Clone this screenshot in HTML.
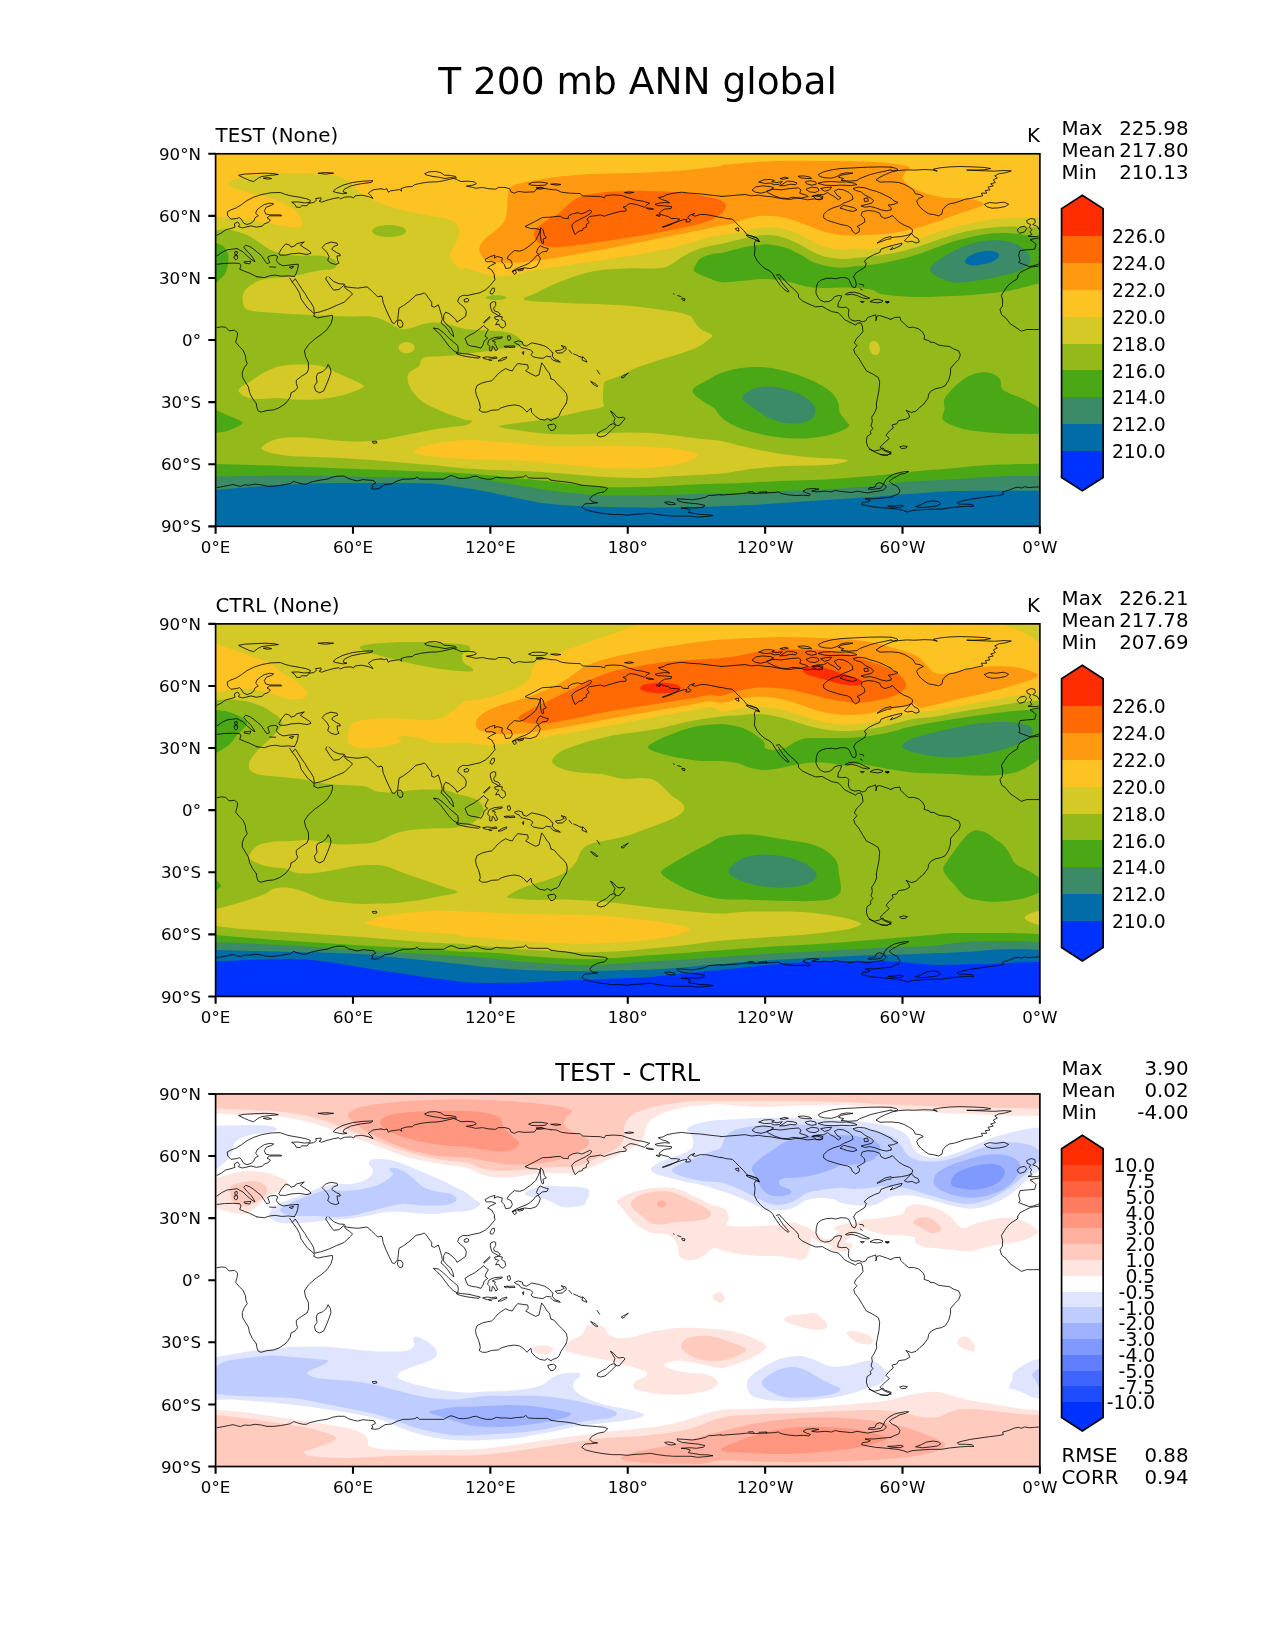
<!DOCTYPE html>
<html lang="en"><head><meta charset="utf-8"><title>T 200 mb ANN global</title>
<style>html,body{margin:0;padding:0;background:#fff}body{width:1275px;height:1650px;overflow:hidden}svg{display:block;will-change:transform}text{font-family:"DejaVu Sans","Liberation Sans",sans-serif;fill:#000}.t8{font-size:16.67px}.t9{font-size:18.75px}.t95{font-size:19.79px}.t115{font-size:23.96px}.t18{font-size:37.5px}.m{text-anchor:middle}.e{text-anchor:end}.coast{fill:none;stroke:#000;stroke-width:0.8;stroke-linejoin:round;stroke-linecap:round}</style></head><body>
<svg width="1275" height="1650" viewBox="0 0 1275 1650">
<rect width="1275" height="1650" fill="#fff"/>
<text class="t18 m" x="637.5" y="94.4">T 200 mb ANN global</text>
<defs>
<clipPath id="c0"><rect x="215.6" y="153.78" width="824.29" height="372.57"/></clipPath>
<clipPath id="c1"><rect x="215.6" y="623.87" width="824.29" height="372.57"/></clipPath>
<clipPath id="c2"><rect x="215.6" y="1093.95" width="824.29" height="372.57"/></clipPath>
<path id="coast" class="coast" d="M239,21.38L244.33,20.32L255,19.78L264.33,19.38L273.67,19.78L278.33,20.72L269.67,21.65L261.67,22.72L257.67,24.72L253.67,27.78L249.67,26.72L244.33,24.32L240.33,22.45ZM263.67,24.32L268.33,23.78L271.67,24.85L267.67,25.38ZM318.33,19.38L325.67,18.72L333.67,19.38L325.67,20.32ZM333.4,37.38L336.33,34.72L343,31.38L352.33,28.72L363,27.38L373,26.98L371,28.72L360.33,30.05L351,32.05L344.33,35.38L343,38.05L347,39.38L343,40.05L336.33,38.72ZM217,81.38L221,79.38L225.67,76.05L231,74.72L235,73.38L234.33,70.05L237.67,68.05L239.67,70.72L238.33,72.72L242.33,74.05L245.67,73.38L251,72.05L256.33,73.38L262.33,72.32L264.33,70.05L268.33,68.72L270.33,66.05L267,64.05L269.67,62.05L281.67,62.05L281,61.12L269.67,61.12L265.67,60.05L264.33,56.72L266.33,53.38L271.67,51.38L273.67,50.05L269.67,49.38L264.33,50.72L260.33,53.38L257,56.05L255.67,59.38L258.33,62.05L255,64.05L253.67,67.38L251,69.38L247,70.72L243.67,69.38L241.67,66.05L239.67,63.78L236.33,64.72L231,65.38L227.67,62.05L227.27,58.05L231,56.05L236.33,54.05L241.67,50.72L247,46.72L253.67,43.38L261.67,40.72L271,38.98L280.33,38.72L285.67,40.72L291,42.05L299,43.38L305.67,44.72L310.33,46.45L309.67,48.72L304.33,49.12L297.67,48.05L291.67,48.32L295,50.72L296.33,53.38L300.33,53.65L301.67,51.78L307,52.05L309,49.38L313.67,48.72L316.33,46.72L315.67,44.72L321,44.05L321,46.05L319,47.38L321.67,48.32L327,46.45L333.67,44.72L339,43.78L340.33,45.12L344.33,43.38L351,42.98L353.67,44.05L355,42.05L361.67,41.38L368.33,42.72L373,44.72L371,42.05L368.33,39.38L373,36.05L381,34.98M279,99.38L281.67,94.72L285.67,90.05L289.67,91.38L291,93.38L295,92.05L296.33,90.05L304.33,88.05L300.33,91.38L304.33,94.05L309.67,97.38L311,99.38L307,100.72L299,99.38L291,100.05L285.67,101.38L280.33,101.38ZM322.33,93.38L325.67,90.05L331,88.32L337,89.38L337.67,91.38L333.67,92.72L331.67,95.38L336.33,98.72L339.67,100.05L340.33,102.05L337,102.05L337.67,106.72L339,109.38L335.67,110.72L331,109.38L327.67,106.72L329,102.72L327,98.72L324.33,96.05ZM217,102.05L221.67,98.72L227,96.05L232.33,95.38L237,94.72L239.67,96.32L243,98.05L246.33,101.38L251,105.38L255,108.05L253.67,105.38L251,101.38L247,97.38L243.67,93.38L245.67,91.38L249.67,92.72L253.67,95.38L257.67,98.72L261,101.38L263.67,105.38L267,110.05L269.67,108.72L267.67,103.38L270.33,102.05L275,101.38L277.67,102.72L276.33,106.72L279,110.05L283,112.05L288.33,111.38L293.67,110.72L298.33,110.45L297.67,115.38L296.33,119.38L294.33,122.72M235,98.05L237,97.38L237.4,100.05L235.67,101.38ZM234.73,102.05L237.4,101.65L237.67,104.72L235.67,106.05L234.33,104.32ZM244.33,108.05L251,107.38L249.67,110.05L245,109.38ZM269.67,113.12L275.67,113.38M289.67,113.38L293.67,112.32L292.33,114.45ZM217,110.45L224.33,109.65L232.33,109.38L239.67,109.65L241,112.05L239.67,115.38L244.33,117.38L249.67,119.38L255,122.05L257,122.98M381,34.98L384.33,35.78L387,34.98L388.33,38.45L390.33,37.12L395.67,36.32L399.67,35.78L401.67,37.38L401,34.72L406.33,33.12L412.33,32.72L414.33,30.98L421,29.38L429,28.32L437,28.05L443.67,26.98L449,25.65L453.67,24.58L457.67,26.18L461,27.78L467.67,27.38L474.33,28.05L476.33,30.05L473,31.38L466.33,32.32L471.67,33.38L475.67,34.45L482.33,33.65L489,34.98L495.67,35.38L498.33,33.65L505,33.65L509.67,34.98L511,38.05L514.33,39.38L518.33,37.65L525,38.45L534.33,38.05L536.33,35.38L541,34.05L551,35.78M425,19.78L429,18.05L435.67,17.65L441,18.98L444.33,21.38L450.33,21.65L455.67,22.72L456.33,24.32L450.33,23.78L445,24.72L438.33,23.38L433,22.72L427,21.38ZM529,30.05L533,28.45L541,28.32L547.67,29.38L545,31.38L537,31.78L531.67,31.38ZM536.33,34.05L541,33.38L544.33,34.72L539.67,35.38ZM551,63.38L542.33,63.78L534.33,68.05L525,72.72L530.33,74.72L537,74.98L540.33,76.05L538.33,81.38L535.67,86.72L530.33,91.38L523.67,96.05L519.67,97.38L514.33,96.72L509,101.38L507,104.72L511,106.72L512.33,110.72L510.33,114.05L505.67,114.72L504.33,110.72L501.67,108.05L502.33,104.05L497,102.72L494.33,104.32L495,101.38L490.33,102.72L485,105.65L486.33,108.05L491.67,107.78L495.67,109.38L490.33,112.05L487.67,114.05L491.67,116.05L494.33,120.72L494.33,122.98M541,74.05L543,76.05L544.33,81.38L546.33,84.05L543,85.38L543.67,89.38L542.33,90.05L541,86.72L540.33,81.38L540.33,77.38ZM540.33,92.05L545,94.05L548.33,94.72L547,97.38L542.33,98.05L539,100.72L536.33,98.72L537.67,95.38ZM538.33,101.38L540.33,104.72L539,108.72L536.33,112.72L530.33,114.72L524.33,114.05L519.67,115.38L514.33,116.72L512.33,118.05L514.33,116.05L519.67,113.38L525,111.38L529,109.38L533,106.05L535.67,102.72ZM512.33,117.65L514.33,120.72L516.33,119.38L515.67,117.12ZM518.33,115.78L523.67,114.72L523,116.32L519,117.12ZM551,35.78L556.33,36.05L561.67,38.45L569.67,39.38L580.33,39.78L582.33,42.05L589.67,42.45L600.33,42.72L604.33,44.05L605.67,41.65L613.67,41.12L621.67,41.65L628.33,44.05L636.33,46.45L643,47.38L649.67,49.38L647,50.98L644.33,53.38L640.33,52.05L636.33,50.72L631,49.65L628.33,50.45L625.67,52.72L623,53.38L626.33,55.38L625.67,57.38L620.33,57.65L613.67,59.38L607,61.38L604.33,62.45L600.33,61.12L595,62.05L589.67,62.72L587,65.38L589,68.72L586.33,70.72L586.33,73.38L583,74.72L582.33,76.72L579,77.38L575,80.72L573,76.05L571.67,71.38L575,68.05L580.33,65.38L585.67,62.72L590.33,59.78L591.67,57.38L589.67,56.32L585.67,58.45L581.67,60.05L577.67,58.98L572.33,60.05L568.33,62.45L568.33,64.72L563,64.32L560.33,62.45L555,62.72L551,63.38M551,30.45L556.33,31.38L561,30.72L556.33,30.05ZM625,38.72L629.67,38.05L633.67,38.72L629,39.52ZM646.33,54.05L650.33,54.45L653.67,55.38L649.67,55.52ZM656.33,61.38L660.33,61.12L659.67,62.45ZM721,42.45L711,41.38L700.33,40.05L689.67,39.38L681.67,38.45L673.67,39.38L667,40.72L663,42.98L658.33,43.78L661.67,45.65L667,47.38L669.67,49.12L664.33,48.72L659,49.38L655,50.45L657.67,51.78L664.33,52.05L671.67,52.72L671,54.72L664.33,55.38L660.33,58.05L659,59.78L663,61.38L668.33,62.72L671,64.72L676.33,64.72L679.67,65.38L676.33,68.05L671,70.72L665.67,72.72L662.33,73.38L667,71.38L673.67,69.12L679,67.38L683,66.05L687,65.38L685.67,68.05L689.67,68.05L691,66.45L687.67,64.05L689.67,61.38L695,59.38L692.33,61.38L695,62.45L700.33,60.72L705.67,60.72L711,61.65L721,63.78M721,42.72L729,42.05L737,41.38L745,40.72L751.67,42.05L758.33,41.38L765,42.45L771.67,42.98L777,44.05L783.67,45.12L790.33,45.65L795.67,44.32L801,44.72L807.67,46.05L814.33,45.12L819.67,46.05L823,44.72L819.67,42.72L814.33,42.05L811.67,42.98L817,41.38L823.67,40.72L827.67,38.72L830.33,40.72L834.33,42.72L838.33,46.05L841,44.05L837,41.38L834.33,37.38L838.33,35.38L843.67,36.05L849,38.72L852.33,42.05L853,45.38L849,47.38L843.67,49.38L839.67,52.05L833,54.05L827.67,56.72L823.67,60.72L823.67,64.05L827.67,66.72L834.33,68.72L841,70.72L847.67,72.05L851,74.05L852.33,77.38L855.67,80.05L859,78.05L859.67,74.72L857,72.72L861,70.72L865,68.05L864.33,64.72L861,61.38L862.33,58.05L867.67,56.72L874.33,57.38L879.67,59.38L881,62.72L885,64.72L891,62.72M721,63.38L726.33,64.72L732.33,65.38L735.67,68.72L739.67,72.72L743.67,76.72L747,80.72L751.67,82.72L757,84.05L759.67,88.05L755.67,86.72L754.33,89.38L755,94.72L754.33,101.38L757,106.72L761,111.38L765,114.72L769,116.72L772.33,119.38L774.33,122.98M746.33,81.38L751.67,82.05L757.67,84.72L759,87.38L754.33,85.38L749,83.38ZM735.67,74.72L738.33,74.05L739,77.38L737,76.72ZM776.33,121.38L779.67,120.72L781,122.98M752.33,36.05L755.67,33.12L762.33,32.05L770.33,32.72L773.67,34.05L770.33,36.05L766.33,38.05L761,39.38L755.67,38.45ZM767,37.38L773,35.38L781,36.05L790.33,34.72L798.33,34.05L801,36.05L799.67,39.38L806.33,41.38L808.33,42.72L801,44.32L793,43.38L787.67,44.72L781,44.32L774.33,42.05L769,39.38ZM759,28.05L763.67,26.05L770.33,25.65L774.33,26.72L771.67,28.05L777,28.72L782.33,27.78L779.67,30.45L774.33,30.98L770.33,29.38L765,29.65ZM787.67,27.38L793,27.78L797,29.12L795.67,30.98L790.33,30.45L785,31.78L779.67,32.05L783.67,29.65ZM780.33,24.72L785,23.38L788.33,24.32L783.67,25.38ZM798.33,22.45L803.67,22.05L810.33,23.38L811.67,24.72L806.33,24.72L801,24.05ZM805.67,28.05L810.33,26.98L815.67,28.05L816.33,30.45L811.67,31.38L807,30.05ZM806.33,35.38L811.67,33.38L817.67,34.05L819,36.72L815,38.72L809.67,38.05ZM821,34.72L826.33,33.65L831.67,33.38L829.67,36.05L825,37.38ZM813,42.05L818.33,41.12L823,42.72L822.33,45.12L817,45.65ZM818.33,29.38L823.67,28.05L831.67,27.78L839.67,28.32L846.33,28.05L854.33,29.38L857,30.98L850.33,31.78L841,31.38L833,31.78L825,31.38ZM891,16.05L885,17.38L878.33,18.72L870.33,20.72L865,22.72L859.67,24.72L857,26.72L849,27.38L841,26.45L843.67,24.72L838.33,23.38L841,21.38L849,20.05L853,19.38L846.33,18.98L841,20.05L837,22.72L831.67,24.32L825,24.05L819.67,22.72L818.33,20.72L823.67,18.05L831.67,16.05L841,14.72L854.33,14.05L867.67,13.38L881,13.12L891,13.38M891,44.32L886.33,42.05L881,39.38L875.67,37.38L870.33,36.05L865,34.05L858.33,33.38L853,34.72L855.67,36.72L861,38.05L865,41.38L870.33,44.05L873.67,46.72L871.67,49.38L866.33,50.72L861,52.05L864.33,53.38L870.33,52.72L875.67,54.05L881,56.05L886.33,57.12L891,56.05M840.33,54.05L843.67,51.38L849,52.72L854.33,54.05L857,56.05L853,57.65L847.67,56.72L843.67,55.38ZM864.33,44.72L867.67,44.05L868.33,47.38L865,47.78ZM891,82.72L885,84.05L879.67,87.38L877,89.38L882.33,87.38L887.67,85.38L891,85.12M891,92.05L886.33,93.38L881,95.38L879.67,98.72L874.33,100.72L869,103.38L865.67,106.05L864.33,108.05L866.33,109.38L865,113.38L859.67,116.72L855.67,119.38L853.67,122.98M890.93,13.38L896.67,14.72L898,16.05L893.33,17.12L890.93,16.32M898.67,16.72L906.67,16.05L914.67,16.32L924,15.78L932,16.05L937.33,17.38L933.33,15.38L940,14.05L949.33,13.12L960,12.72L973.33,13.12L984,13.65L990.67,14.72L984,16.05L973.33,16.32L966.67,16.32L976,16.72L986.67,17.12L994.67,17.38L1004,16.72L1011.33,17.12L1005.33,18.98L998.67,20.05L994.67,22.05L997.33,24.05L993.33,26.05L995.33,28.72L990.67,30.05L993.33,32.05L988,33.38L990,36.05L985.33,36.72L986.67,39.38L981.33,39.38L982.67,42.05L976,43.38L970.67,44.72L965.33,45.38L960,47.38L954.67,49.12L949.33,50.05L945.33,52.72L942.67,56.05L942,60.05L938.67,62.05L933.33,60.72L928.67,60.05L924.67,57.38L920.67,54.05L918,50.72L916.67,47.38L918.67,44.72L923.33,42.72L920,40.72L915.33,40.05L913.33,36.05L909.33,33.38L904,30.45L898.67,28.72L892,28.05L885.33,28.05L880,28.32L876,26.05L880,23.38L885.33,20.72L892,18.05ZM984.67,50.45L989.33,48.72L996,49.38L1004,48.32L1008.67,50.45L1005.33,52.72L998.67,54.05L992,54.45L987.33,53.12ZM890.93,44.32L893.33,46.72L898,48.72L893.33,50.72L888,51.38L891.33,54.05L890.93,56.05M890.93,62.72L892,61.38L894.67,64.05L898.67,68.05L904,71.38L909.33,73.38L912.67,76.05L912,79.38L908,81.38L901.33,82.72L894.67,83.38L890.93,83.78M904.67,86.72L908.67,82.72L911.33,79.38L914,82.72L918,84.72L919.33,88.05L916,89.38L912,87.38L908,88.05ZM890.93,92.05L896,90.72L902,89.38L901.33,91.38L896,94.05L890,96.05L892.67,93.38M1017.33,76.05L1020,73.38L1024.67,72.32L1026.67,74.72L1024.67,78.05L1020,79.38ZM1040,81.38L1037.33,82.72L1032,82.72L1028,82.45L1032,80.72L1030,78.05L1032,76.05L1029.33,73.38L1030.67,70.72L1027.33,69.38L1026.67,66.72L1030.67,64.72L1034.67,65.38L1035.33,68.72L1032.67,70.72L1037.33,72.72L1039.33,76.05L1040,77.38M1040,84.05L1034.67,84.72L1030,86.05L1033.33,88.05L1036,90.72L1034.67,95.38L1026.67,96.05L1020,96.72L1018.67,101.38L1020,106.72L1018.67,108.72L1024,110.72L1029.33,112.72L1033.33,112.05L1037.33,110.72L1040,109.38M1040,112.05L1030.67,113.38L1025.33,116.05L1020,118.72L1017.33,122.98M257,122.98L264.33,123.78L269.67,122.05L275,121.38L281.67,122.45L288.33,122.05L294.33,122.72M289.67,124.38L292.33,128.38L296.33,133.72L299.67,139.72L301,145.05L304.33,149.72L307.67,154.38L312.33,157.98L314.33,160.38L313.67,162.38L317.67,164.12L324.33,162.78L332.33,161.45L332.6,164.38L331,169.72L327,175.72L321.67,180.38L315,185.05L308.33,191.05L304.33,197.05L305.67,203.05L308.33,208.38L308.6,215.05L307,219.05L301.67,222.38L296.33,226.38L296.33,229.72L297.67,233.72L295,237.05L291,239.05L290.33,243.05L287.67,247.05L285,249.98M292.33,128.38L295.27,125.05L298.33,129.72L301.67,135.05L305,139.72L307.67,144.38L311,149.05L313.67,153.72L314.33,159.32L320.33,157.98L328.33,155.32L336.33,151.72L344.33,148.38L349.67,143.05L352.6,140.12L349.67,137.45L345.67,134.78L343.67,131.72L339,135.72L333.67,136.38L331,133.05L328.33,129.05L325.67,125.05L326.73,123.05M329,123.32L333.67,127.72L339,129.98L344.33,130.38L345.67,133.05L351,133.72L357.67,134.38L367,133.05L371,136.38L375,140.38L377.67,143.05L381,142.38M217,173.72L221.67,173.05L225.67,173.45L229,177.05L234.33,176.38L237.67,179.05L237,183.72L235.67,188.38L239,192.38L243,196.38L245.4,201.72L245.93,206.38L247.27,209.72L244.33,213.72L242.33,218.38L242.33,223.05L245,227.72L248.33,233.05L249.67,239.05L252.33,244.38L255.67,249.05L256.33,249.98M328.33,211.05L330.33,214.38L331,218.38L329,224.38L326.33,231.05L323.67,237.05L319.67,239.05L315.67,237.05L314.33,232.38L317,228.38L316.33,223.05L317.67,219.72L323,217.72L326.33,214.38ZM381,142.38L382.33,143.05L383,148.38L385.67,155.05L389,162.38L392.33,169.05L394.33,169.72L397.67,165.72L398.33,160.38L399,154.38L403.67,151.72L409,147.72L414.33,143.05L415.67,141.45L421,140.38L424.33,139.05L426.33,141.05L429,145.05L431.67,148.38L431.67,152.38L434.33,153.45L438.33,151.05L439.67,155.05L441.67,161.72L442.33,165.72L441,169.05L444.33,171.72L447.67,175.72L450.33,179.72L453.67,183.05L453,179.05L451,174.38L447,171.05L443.67,167.05L443.67,161.72L445.67,158.38L449,159.72L453,163.05L455.67,165.72L457,168.38L461,165.72L465.67,162.38L466.33,157.72L464.33,153.72L460.33,150.38L457.67,147.72L459,143.72L463,141.45L467.67,141.72L473,140.38L479.67,139.05L485,136.38L489,133.05L492.33,129.05L495,125.72L494.33,123.05M398.33,166.38L401,166.38L403,169.72L402.33,173.05L399.67,173.72L397.67,171.05ZM464.33,145.72L467,144.38L469,145.98L467.67,148.12L465,148.12ZM490.33,137.72L492.33,134.38L494.33,134.38L494.33,137.72L492.33,140.38L490.6,139.72ZM433.67,174.38L438.33,175.05L443.67,179.05L449,184.38L453.67,188.38L457.67,191.72L458.33,195.72L457.67,199.05L453.67,197.05L449,192.38L445,187.05L441,181.72L437,177.72ZM457,199.05L462.33,199.72L469,200.38L475.67,201.98L480.33,203.05L479,204.38L473,203.72L466.33,202.78L460.33,201.45L457.27,200.38ZM483,203.72L487.67,203.05L491.67,203.72L496.33,203.05L497,204.38L491.67,205.05L487.67,205.72L483.67,204.65ZM498.33,207.05L502.33,204.38L507,203.05L506.33,204.65L501.67,206.78ZM489,206.38L491.67,206.78M465.27,184.38L469,181.72L474.33,179.05L479.67,175.05L483.67,171.72L486.33,174.38L488.33,175.72L486.33,179.05L485,182.38L487.67,184.38L484.33,187.05L483,191.05L481,194.38L476.33,193.05L471.67,192.38L467.67,191.05L466.33,187.72ZM483.67,168.38L489.67,162.78L490.07,163.72L484.33,169.05ZM491,149.05L493.67,147.72L495.67,148.38L495.67,151.72L493.67,154.38L494.33,157.05L498.33,158.38L500.33,161.05L498.33,161.72L495,159.72L492.33,158.38L491,155.05L490.33,151.72ZM495,163.05L498.33,162.38L502.33,163.05L501.67,165.72L505,167.72L505.67,171.72L503,174.38L500.33,173.05L499,170.38L495.67,171.05L497,168.38L499,166.38L495.67,165.45ZM489.67,185.72L494.33,183.72L502.33,183.05L501.67,184.38L495.67,185.45L492.33,187.05L495.67,188.38L494.33,189.72L496.33,192.38L497.67,195.72L495.67,197.05L493.67,193.05L492.33,192.38L491.67,197.05L489.67,197.05L489.67,192.38L487.67,190.38L488.33,187.72ZM507.67,182.38L509.67,181.72L510.6,185.05L509,187.05L507.67,185.05ZM504.33,192.65L507.67,192.12L507,193.72ZM508.33,192.38L514.33,192.12L515,193.45L509,193.72ZM551,197.05L549,195.05L545,192.38L538.33,190.38L531.67,189.05L526.33,192.38L523,191.05L522.33,188.12L518.33,187.05L514.33,188.38L515.67,189.72L519,191.05L521,193.72L525.67,194.78L530.33,196.12L533,198.38L531,201.05L533,203.05L538.33,204.12L543,204.65L546.33,202.38L551,203.05M522.6,198.38L523.93,197.72L523.4,200.38ZM479.67,249.98L478.33,245.72L476.33,241.05L475.4,236.38L477,231.72L482.33,229.05L487.67,227.72L491.67,227.05L495,223.72L497,221.05L501,217.72L505.67,214.78L509,216.38L512.33,217.05L514.33,213.72L517.67,209.72L522.33,210.38L527.67,211.05L528.33,214.38L525.67,217.05L530.33,219.72L535.67,222.38L539,221.05L540.33,215.05L541.67,209.05L544.33,212.38L547,217.05L549.27,219.05L551,225.05M673.4,139.85L674.2,140.38M677.67,141.72L681,142.78M682.33,144.38L685,145.05L684.33,147.05L682.33,145.98ZM551,197.72L553,199.05L552.33,202.38L555,205.72L559,207.05L560.33,208.38L557,207.72L553,206.38L551,204.38M555.67,197.05L560.33,196.38L564.33,194.38L561,191.72L565.67,193.05L566.33,195.72L562.33,199.05L557.67,199.32ZM569,196.38L571.67,199.72M573.67,200.12L577.67,201.72M578.33,202.38L582.33,203.72M583,203.05L585.67,205.72L587,208.38L582.33,206.38ZM597,216.38L599.67,220.38M591,227.72L595,229.72L597.93,232.38L596.33,232.65L592.33,229.72ZM621.4,223.05L623.67,221.72L625.67,220.65L628.33,219.32L625.67,221.45L624.07,223.72L622.33,224.12ZM551,225.05L554.33,226.38L557,229.72L560.33,233.05L563.67,236.38L566.33,239.72L567.27,243.72L566.73,247.72L565.93,249.98M774.33,123.05L777,127.05L780.33,131.72L784.33,135.72L788.33,138.38L789,137.45L786.33,134.38L783,130.38L780.33,126.38L778.33,123.05M781.67,123.05L785,127.05L790.33,132.38L795.67,137.05L798.33,140.38L798.6,143.72L802.33,147.05L809,150.38L815.67,153.05L822.33,152.65L826.33,155.05L831.67,157.72L838.33,159.05L841.67,162.38L844.33,165.72L849,168.12L853,169.98L855.67,171.32L857.27,169.45L860.73,169.05L862.33,172.38L863,177.72L859.67,181.72L856.33,185.05L854.33,189.05L857,191.72L853.67,195.72L855,199.72L858.33,203.72L862.33,210.38L866.33,217.05L873,220.38L878.33,223.72L879.67,228.38L879,236.38L877.67,243.05L876.33,249.98M853.67,123.05L855.67,127.05L856.33,131.05L855,133.98L852.33,133.05L850.33,129.05L849,125.72L846.33,124.12L841,123.72L835.67,125.05L831.67,124.38L826.33,124.65L821,126.38L817.67,129.05L816.33,133.72L815.93,139.05L817.67,143.05L820.33,146.38L824.33,148.12L829,147.72L832.33,145.72L834.33,143.05L838.33,141.72L841.67,141.98L840.33,145.72L838.33,149.05L837.67,153.05L841.67,153.72L846.33,153.45L849,155.72L848.33,159.72L848.73,163.05L851,165.98L855,167.32L859,166.52L862.33,168.12L865.67,167.05L867.67,163.72L871.67,162.38L875.67,161.05L876.33,165.72L875.67,167.05L877,162.38L879.67,161.72L883.67,163.05L887.67,164.38L891,165.72M845.67,140.38L849,138.78L854.33,138.38L859.67,139.72L865,142.38L869.67,144.38L867.67,145.05L862.33,144.12L857,141.72L851.67,140.38L847.67,141.05ZM870.33,147.72L873.67,145.98L878.33,145.45L883,147.05L881.67,148.38L877,149.05L873,148.38ZM860.73,147.72L864.33,147.72L862.6,148.78ZM885.67,147.72L889,147.72L887.4,148.65ZM859.67,130.38L863,130.78L863.67,132.38M860.33,135.05L862.33,136.38M890.93,165.45L894.67,163.72L900,163.32L900.67,166.38L904.67,170.38L908.67,173.72L913.33,173.45L918.67,175.05L922.67,178.38L924.67,182.38L924,185.45L929.33,187.05L930,188.38L934,188.65L938.67,191.32L944,192.12L949.33,192.65L953.33,195.05L958.67,197.05L960.4,201.05L958.67,205.72L954.67,209.72L950.67,214.38L950.4,220.38L948.67,226.38L945.33,231.72L941.33,233.72L936,234.78L931.33,237.05L928.67,240.38L928,244.38L924.67,249.05L924,249.98M1018,123.05L1017.33,125.05L1012,128.38L1008,131.72L1004.67,136.38L1001.33,141.72L1002.67,146.38L1002.4,152.38L1000,155.72L1001.6,161.05L1006,164.38L1010,169.72L1016,173.72L1021.33,177.45L1026.67,175.72L1033.33,175.72L1040,175.72M886,148.38L889.33,148.12L888,149.05ZM256.33,250.05L257,254.05L258.33,257.38L261,258.32L267,256.72L273.67,256.05L279,254.05L283,251.38L285,250.05M217,333.78L223,332.72L228.33,331.65L233,330.72L236.33,331.65L240.33,332.72L244.33,331.12L249.67,331.38L255,330.32L261.67,331.12L267,332.45L273.67,332.45L280.33,331.65L285.67,330.72L290.33,329.78L293.67,327.65L297.67,328.98L303,330.32L306.33,330.32L309.67,328.72L315,327.38L320.33,326.32L327,325.38L332.33,323.38L337.67,322.32L344.33,322.32L348.33,324.72L353.67,326.32L357.67,327.12L363,325.78L368.33,326.32L373.67,326.72L375.67,329.38L371.67,331.38L373,333.38L371,334.72L375,335.38L379,334.72L381,332.98M372.6,287.65L376.33,287.38L377,288.98L373.67,289.52ZM479.67,250.05L480.33,254.05L479,256.45L482.33,258.32L486.33,258.32L491.67,256.45L498.33,256.05L501,254.05L507.67,252.05L514.33,251.12L519.67,252.05L523.67,254.72L527,258.32L529,256.05L531,254.32L531.67,258.72L535.67,262.72L539.67,265.38L545,266.32L547.4,264.72L551,266.72M381,333.38L385,330.72L391.67,330.05L397,327.38L403,325.38L409,325.38L415,324.72L417,323.12L419.67,325.38L426.33,325.38L434.33,325.38L443.67,325.38L447.67,323.12L451,321.78L454.33,322.72L458.33,324.45L463.67,324.72L469,324.05L473,322.72L476.33,322.32L480.33,324.05L486.33,325.38L491.67,325.38L496.33,323.38L501,324.05L506.33,324.05L511,324.45L515.67,323.65L523.67,323.12L525.67,321.38L528.33,324.05L534.33,324.45L541,324.45L547.67,324.45L551,326.32M565.93,250.05L563.67,253.38L561,257.38L559,262.05L557,264.05L553,265.38L551,266.72M551,270.72L553.67,270.32L556.07,272.05L555.27,274.72L553,276.45L551,276.72M551,270.72L547.67,271.38L548.73,274.05L551,276.72M610.73,257.38L613.67,259.38L616.33,262.72L619,264.05L623.67,263.38L625,264.98L622.33,268.05L619.67,271.38L617,272.05L615,270.05L613.67,268.05L615,264.72L613,261.38ZM613.67,270.05L615.67,272.05L612.33,275.38L609,278.72L605,282.05L600.33,283.12L597,281.78L597.67,279.38L602.33,276.72L606.33,274.72L609.67,271.38ZM551,326.32L557.67,327.38L565.67,328.05L573.67,329.38L581.67,331.38L589.67,332.05L597.67,332.72L604.33,333.38L607.67,334.72L604.33,338.05L597.67,339.38L592.33,342.05L589.67,345.38L592.33,348.05L597.67,348.98L591,349.78L585,350.05L581.67,353.38L585.67,356.05L593.67,358.05L603,359.65L612.33,360.72L620.33,360.72L627,361.38L635,360.45L643,360.05L650.33,359.38L657.67,360.72L665.67,361.78L673.67,362.32L683,362.32L691,362.32L697.67,363.38L705.67,362.72L713,361.78L708.33,360.98L700.33,360.72L692.33,359.38L688.33,358.72L690.33,356.05L685.67,354.72L681,354.32L689.67,353.78L696.33,354.32L703,353.38L705,351.65L697.67,350.05L689.67,349.38L682.33,348.45L677.67,346.72L677,344.98L684.33,345.38L692.33,346.05L699,344.98L705.67,343.38L708.33,341.78L715,341.38L721,340.72M665,348.45L668.33,348.05L673.67,348.98L675.67,350.32L671,351.12L667,350.05ZM876.33,250.05L876.73,254.05L874.33,259.38L871.67,263.38L872.33,267.38L871,272.05L873,274.72L870.33,277.38L871,280.05L867,282.72L866.33,288.05L867.67,292.72L871,296.05L875.67,298.72L881,300.72L886.33,301.38L891,300.05M869,295.38L874.33,297.38L879.67,296.05L883,294.05L884.33,296.05L891,298.32M721,341.38L729,340.72L738.33,340.05L747.67,339.12L755.67,339.65L765,339.12L774.33,338.72L778.33,338.05L781,339.65L787.67,340.98L795.67,341.78L803.67,341.38L809,342.05L810.33,340.45L806.33,339.12L803,337.38L806.33,335.38L813,334.72L819,335.38L814.33,336.45L811.67,337.38L817,338.05L825,337.38L831.67,338.05L835.67,336.45L838.33,337.38L845,338.05L851.67,338.72L857,337.38L862.33,338.32L867.67,339.12L873,338.05L878.33,337.38L883.67,336.05L886.33,333.38L884.33,330.72L879.67,328.72L876.33,330.05L875,333.38L869,334.05L868.33,335.38L874.33,335.38L881,334.32L883,331.38L885,327.38L887.67,324.05L891,322.05M891,343.38L883.67,344.05L874.33,344.98L865,344.98L870.33,346.72L867.67,348.05L862.33,348.72L861.67,350.72L867.67,352.05L875.67,353.38L883.67,354.05L891,354.72M748.33,338.05L753,337.78L754.33,339.12M759,338.32L767,338.05L766.33,339.38M924,250.05L920,253.38L916,257.38L911.33,258.72L906,256.45L908.67,260.05L909.6,263.38L905.33,265.78L898.67,266.72L896.67,270.05L892,271.12L893.33,274.05L889.33,277.38L886,281.38L889.33,284.72L885.33,288.05L882,291.38L880,293.38L884,296.72L888.67,298.72L890.93,300.05M890.93,298.32L888,301.38L882.67,301.38L880,300.72M900,292.98L903.33,292.05L907.33,292.72L906,294.32L902,294.72ZM890.93,322.05L894.67,320.05L900,318.72L905.33,317.78L908.67,317.78L905.33,319.38L900,320.72L896.67,322.72L892.67,324.72L889.33,327.38L892,330.05L897.33,332.72L900,336.72L898.67,340.05L893.33,342.05L890.93,343.38M890.93,354.72L897.33,355.38L903.33,356.72L907.33,358.32L912,356.72L920,356.05L930.67,355.38L941.33,355.38L949.33,354.05L960,352.98L968,352.45L974,352.45L972,350.72L965.33,350.32L958.67,350.32L957.33,348.72L962.67,347.12L970.67,345.38L980,344.05L989.33,342.72L997.33,341.78L1003.33,340.72L1002.67,338.05L1008,336.72L1014.67,334.05L1018.67,333.38L1021.33,334.32L1024.67,332.98L1029.33,333.78L1034.67,333.38L1040,332.98M916,352.72L921.33,350.72L926.67,348.05L933.33,347.12L938.67,348.05L940.67,350.05L937.33,352.05L930.67,352.98L922.67,353.78ZM888,352.45L894.67,352.05L901.33,351.38L903.33,352.45L900,353.78L893.33,353.38Z"/>
</defs>
<g clip-path="url(#c0)">
<rect x="215.6" y="153.78" width="824.29" height="372.57" fill="#93ba1a"/>
<path fill="#d4c926" d="M150,100L150,231C150,231 213,230.13 216,230C219,229.87 221.83,229.43 225,229.6C228.17,229.77 231.33,230.1 235,231C238.67,231.9 243.33,233.33 247,235C250.67,236.67 253.67,238.83 257,241C260.33,243.17 263.33,246 267,248C270.67,250 274.33,251.73 279,253C283.67,254.27 289.67,255.17 295,255.6C300.33,256.03 306.33,255.53 311,255.6C315.67,255.67 319.33,255.43 323,256C326.67,256.57 330.67,257.67 333,259C335.33,260.33 337,262.33 337,264C337,265.67 335.33,268 333,269C330.67,270 326.67,269.5 323,270C319.33,270.5 315,271.17 311,272C307,272.83 303,274.17 299,275C295,275.83 291.33,276.5 287,277C282.67,277.5 277.33,277.5 273,278C268.67,278.5 264.67,278.83 261,280C257.33,281.17 253.83,283 251,285C248.17,287 245.4,289.5 244,292C242.6,294.5 242.43,297.33 242.6,300C242.77,302.67 243.27,306.17 245,308C246.73,309.83 248.67,310.27 253,311C257.33,311.73 264.67,311.9 271,312.4C277.33,312.9 284.33,313.57 291,314C297.67,314.43 304.33,314.67 311,315C317.67,315.33 324.33,315.77 331,316C337.67,316.23 344.33,316.33 351,316.4C357.67,316.47 366,315.97 371,316.4C376,316.83 377.67,317.73 381,319C384.33,320.27 387.67,322.33 391,324C394.33,325.67 397.67,328.33 401,329C404.33,329.67 407.33,328.83 411,328C414.67,327.17 419,324.93 423,324C427,323.07 431,322.4 435,322.4C439,322.4 443.33,323.23 447,324C450.67,324.77 453.83,326.17 457,327C460.17,327.83 462.5,328.5 466,329C469.5,329.5 473,329.67 478,330C483,330.33 490.67,330.5 496,331C501.33,331.5 506.17,331.83 510,333C513.83,334.17 516.89,336.06 519,338C521.11,339.94 524.83,343 522.67,344.67C520.5,346.33 511.56,347 506,348C500.44,349 494.89,349.83 489.33,350.67C483.78,351.5 478.22,352.22 472.67,353C467.11,353.78 461.56,354.78 456,355.33C450.44,355.89 444.83,355.89 439.33,356.33C433.83,356.78 426.39,356.39 423,358C419.61,359.61 421.33,363.5 419,366C416.67,368.5 410.83,370.33 409,373C407.17,375.67 407.33,378.83 408,382C408.67,385.17 410.5,388.67 413,392C415.5,395.33 418.33,398.83 423,402C427.67,405.17 435.33,408.5 441,411C446.67,413.5 452.83,415.5 457,417C461.17,418.5 463.5,419.33 466,420C468.5,420.67 472,420.13 472,421C472,421.87 469.5,424.2 466,425.2C462.5,426.2 456.83,426.2 451,427C445.17,427.8 437.67,428.83 431,430C424.33,431.17 417.67,432.67 411,434C404.33,435.33 397.67,436.83 391,438C384.33,439.17 377.67,440.4 371,441C364.33,441.6 357.67,441.77 351,441.6C344.33,441.43 338.33,440.67 331,440C323.67,439.33 314.33,438 307,437.6C299.67,437.2 293,437.03 287,437.6C281,438.17 275.17,439.43 271,441C266.83,442.57 263.5,445.67 262,447C260.5,448.33 260.5,448 262,449C263.5,450 266.17,451.83 271,453C275.83,454.17 283.67,455.33 291,456C298.33,456.67 306.67,456.67 315,457C323.33,457.33 331.67,457.5 341,458C350.33,458.5 361,459.27 371,460C381,460.73 391,461.57 401,462.4C411,463.23 422.67,464.23 431,465C439.33,465.77 445.17,466.43 451,467C456.83,467.57 458.5,467.9 466,468.4C473.5,468.9 486,469.57 496,470C506,470.43 516,470.5 526,471C536,471.5 546,472.23 556,473C566,473.77 576,474.83 586,475.6C596,476.37 606,477.2 616,477.6C626,478 636,478.27 646,478C656,477.73 666,476.6 676,476C686,475.4 698.5,474.8 706,474.4C713.5,474 715.17,474.27 721,473.6C726.83,472.93 734.33,471.33 741,470.4C747.67,469.47 753.33,468.73 761,468C768.67,467.27 778.67,466.4 787,466C795.33,465.6 803.33,465.87 811,465.6C818.67,465.33 826.83,465.17 833,464.4C839.17,463.63 846.67,461.9 848,461C849.33,460.1 845.5,459.5 841,459C836.5,458.5 827.67,458.43 821,458C814.33,457.57 807.67,457.07 801,456.4C794.33,455.73 787.67,455 781,454C774.33,453 767.67,451.73 761,450.4C754.33,449.07 747.67,447.57 741,446C734.33,444.43 726.83,442.07 721,441C715.17,439.93 711.17,440.17 706,439.6C700.83,439.03 696,438.37 690,437.6C684,436.83 676.67,435.77 670,435C663.33,434.23 656.67,433.43 650,433C643.33,432.57 636.67,432.4 630,432.4C623.33,432.4 616.67,432.73 610,433C603.33,433.27 596.67,433.77 590,434C583.33,434.23 576.67,434.4 570,434.4C563.33,434.4 556.67,434.4 550,434C543.33,433.6 536.67,432.83 530,432C523.33,431.17 515.17,429.93 510,429C504.83,428.07 499,427.23 499,426.4C499,425.57 505.5,424.73 510,424C514.5,423.27 520,422.83 526,422C532,421.17 539.33,420.17 546,419C552.67,417.83 559.33,416.43 566,415C572.67,413.57 579.9,411.73 586,410.4C592.1,409.07 599.77,408.73 602.6,407C605.43,405.27 602.83,403.5 603,400C603.17,396.5 603.1,389.17 603.6,386C604.1,382.83 603.27,382.67 606,381C608.73,379.33 615,378.17 620,376C625,373.83 630,370.5 636,368C642,365.5 649.33,363.17 656,361C662.67,358.83 669.33,357.17 676,355C682.67,352.83 690.67,350.5 696,348C701.33,345.5 705.33,342.17 708,340C710.67,337.83 713,336.67 712,335C711,333.33 704.67,331.83 702,330C699.33,328.17 698,326.33 696,324C694,321.67 693.33,318 690,316C686.67,314 681.67,313.17 676,312C670.33,310.83 662.67,309.93 656,309C649.33,308.07 642.67,307.07 636,306.4C629.33,305.73 622.67,305.4 616,305C609.33,304.6 602.67,304.23 596,304C589.33,303.77 582.67,303.87 576,303.6C569.33,303.33 562.67,302.73 556,302.4C549.33,302.07 541.4,302.17 536,301.6C530.6,301.03 523.6,300.43 523.6,299C523.6,297.57 531.6,295.17 536,293C540.4,290.83 545,288.23 550,286C555,283.77 560,281.77 566,279.6C572,277.43 579.33,274.67 586,273C592.67,271.33 599.33,270.37 606,269.6C612.67,268.83 619.33,268.6 626,268.4C632.67,268.2 640,268.47 646,268.4C652,268.33 657.67,268.73 662,268C666.33,267.27 668.67,265.83 672,264C675.33,262.17 678,259.33 682,257C686,254.67 691.33,251.83 696,250C700.67,248.17 705.83,247 710,246C714.17,245 716.5,245 721,244C725.5,243 731.67,241.27 737,240C742.33,238.73 747.67,237.23 753,236.4C758.33,235.57 763.67,234.73 769,235C774.33,235.27 779.67,236.33 785,238C790.33,239.67 796,242.5 801,245C806,247.5 810.33,250.9 815,253C819.67,255.1 824,256.6 829,257.6C834,258.6 839.67,259.1 845,259C850.33,258.9 859.15,257.19 861,257C862.85,256.81 854.22,257.98 856.08,257.85C857.94,257.72 866.8,256.89 872.16,256.24C877.52,255.6 882.88,254.9 888.24,253.99C893.59,253.08 898.95,252.12 904.31,250.78C909.67,249.44 915.03,247.72 920.39,245.95C925.75,244.18 931.11,241.99 936.47,240.16C941.83,238.34 947.19,236.55 952.55,235.02C957.91,233.49 963.27,232.13 968.63,231C973.99,229.87 979.35,228.99 984.71,228.27C990.07,227.54 995.43,226.93 1000.78,226.66C1006.14,226.39 1010.43,226.55 1016.86,226.66C1023.29,226.77 1031.87,227.09 1039.37,227.3C1046.88,227.52 1100,227 1100,227L1100,100L150,100Z"/>
<path fill="#d4c926" d="M239,389C240.67,386.83 246.67,383.83 251,381C255.33,378.17 260,374.5 265,372C270,369.5 275,367.27 281,366C287,364.73 294.33,364.4 301,364.4C307.67,364.4 315.33,364.73 321,366C326.67,367.27 330,369.83 335,372C340,374.17 346.33,376.83 351,379C355.67,381.17 361.17,383.5 363,385C364.83,386.5 364,386.77 362,388C360,389.23 355.5,390.9 351,392.4C346.5,393.9 341,395.8 335,397C329,398.2 321.67,399.17 315,399.6C308.33,400.03 301.33,399.87 295,399.6C288.67,399.33 282.67,398.1 277,398C271.33,397.9 265.67,399 261,399C256.33,399 252.33,398.83 249,398C245.67,397.17 242.67,395.5 241,394C239.33,392.5 237.33,391.17 239,389Z"/>
<path fill="#d4c926" d="M414.6,347.6C414.6,348.53 414.19,349.59 413.53,350.4C412.86,351.21 411.75,351.98 410.6,352.45C409.45,352.92 407.93,353.2 406.6,353.2C405.27,353.2 403.75,352.92 402.6,352.45C401.45,351.98 400.34,351.21 399.67,350.4C399.01,349.59 398.6,348.53 398.6,347.6C398.6,346.67 399.01,345.61 399.67,344.8C400.34,343.99 401.45,343.22 402.6,342.75C403.75,342.28 405.27,342 406.6,342C407.93,342 409.45,342.28 410.6,342.75C411.75,343.22 412.86,343.99 413.53,344.8C414.19,345.61 414.6,346.67 414.6,347.6Z"/>
<path fill="#d4c926" d="M879.57,346.46C879.92,347.61 880.07,348.99 879.97,350.11C879.86,351.23 879.47,352.39 878.93,353.19C878.39,353.98 877.56,354.62 876.73,354.88C875.9,355.13 874.85,355.08 873.96,354.73C873.06,354.37 872.08,353.63 871.36,352.77C870.64,351.91 869.99,350.68 869.63,349.54C869.28,348.39 869.13,347.01 869.23,345.89C869.34,344.77 869.73,343.61 870.27,342.81C870.81,342.02 871.64,341.38 872.47,341.12C873.3,340.87 874.35,340.92 875.24,341.27C876.14,341.63 877.12,342.37 877.84,343.23C878.56,344.09 879.21,345.32 879.57,346.46Z"/>
<path fill="#93ba1a" d="M406,231C406,232 405.14,233.13 403.72,234C402.31,234.87 399.95,235.7 397.5,236.2C395.05,236.7 391.83,237 389,237C386.17,237 382.95,236.7 380.5,236.2C378.05,235.7 375.69,234.87 374.28,234C372.86,233.13 372,232 372,231C372,230 372.86,228.87 374.28,228C375.69,227.13 378.05,226.3 380.5,225.8C382.95,225.3 386.17,225 389,225C391.83,225 395.05,225.3 397.5,225.8C399.95,226.3 402.31,227.13 403.72,228C405.14,228.87 406,230 406,231Z"/>
<path fill="#93ba1a" d="M506.5,297.6C506.5,298 505.97,298.45 505.09,298.8C504.22,299.15 502.77,299.48 501.25,299.68C499.73,299.88 497.75,300 496,300C494.25,300 492.27,299.88 490.75,299.68C489.23,299.48 487.78,299.15 486.91,298.8C486.03,298.45 485.5,298 485.5,297.6C485.5,297.2 486.03,296.75 486.91,296.4C487.78,296.05 489.23,295.72 490.75,295.52C492.27,295.32 494.25,295.2 496,295.2C497.75,295.2 499.73,295.32 501.25,295.52C502.77,295.72 504.22,296.05 505.09,296.4C505.97,296.75 506.5,297.2 506.5,297.6Z"/>
<path fill="#fdc323" d="M150,100L150,217C150,217 211,216.8 216,217C221,217.2 225.83,217.27 231,217.6C236.17,217.93 242,218.27 247,219C252,219.73 256,221 261,222C266,223 272,224.17 277,225C282,225.83 287.33,226.57 291,227C294.67,227.43 297.17,228.27 299,227.6C300.83,226.93 301.83,224.93 302,223C302.17,221.07 301.5,218.33 300,216C298.5,213.67 296.17,211.33 293,209C289.83,206.67 285.33,204 281,202C276.67,200 272,198.5 267,197C262,195.5 256,194.33 251,193C246,191.67 240.83,190.5 237,189C233.17,187.5 228.67,185.5 228,184C227.33,182.5 229.17,181.33 233,180C236.83,178.67 243,177.07 251,176C259,174.93 271,174 281,173.6C291,173.2 302.67,173.37 311,173.6C319.33,173.83 325,173.93 331,175C337,176.07 343,177.83 347,180C351,182.17 352.33,185.5 355,188C357.67,190.5 359.33,192.67 363,195C366.67,197.33 372.33,200 377,202C381.67,204 385.33,205.33 391,207C396.67,208.67 404.33,210.5 411,212C417.67,213.5 424.33,214.67 431,216C437.67,217.33 446.5,218.33 451,220C455.5,221.67 456.67,223.33 458,226C459.33,228.67 459.67,232.67 459,236C458.33,239.33 455.5,243 454,246C452.5,249 450.17,251.33 450,254C449.83,256.67 451.17,259.5 453,262C454.83,264.5 458.83,268 461,269C463.17,270 463.17,267.5 466,268C468.83,268.5 473.67,270.83 478,272C482.33,273.17 487.33,274.4 492,275C496.67,275.6 501,275.93 506,275.6C511,275.27 516.67,274 522,273C527.33,272 532.33,270.6 538,269.6C543.67,268.6 549.67,267.93 556,267C562.33,266.07 569.33,265 576,264C582.67,263 589.33,262 596,261C602.67,260 609.33,259 616,258C622.67,257 629.33,256.17 636,255C642.67,253.83 649.33,252.33 656,251C662.67,249.67 669.33,248.67 676,247C682.67,245.33 690.33,242.67 696,241C701.67,239.33 705.83,238 710,237C714.17,236 716.5,235.67 721,235C725.5,234.33 731.67,234 737,233C742.33,232 747.67,230 753,229C758.33,228 763.67,227 769,227C774.33,227 779.67,227.67 785,229C790.33,230.33 796,232.67 801,235C806,237.33 810.33,240.83 815,243C819.67,245.17 824,246.9 829,248C834,249.1 839.67,249.6 845,249.6C850.33,249.6 859.15,247.96 861,248C862.85,248.04 854.22,249.7 856.08,249.81C857.94,249.93 866.8,249.22 872.16,248.69C877.52,248.15 882.88,247.53 888.24,246.6C893.59,245.66 898.95,244.45 904.31,243.06C909.67,241.67 915.03,239.98 920.39,238.24C925.75,236.49 931.11,234.35 936.47,232.61C941.83,230.87 947.19,229.26 952.55,227.78C957.91,226.31 963.27,224.97 968.63,223.76C973.99,222.56 979.35,221.41 984.71,220.55C990.07,219.69 995.43,219.1 1000.78,218.62C1006.14,218.14 1010.43,217.92 1016.86,217.65C1023.29,217.39 1031.87,217.23 1039.37,217.01C1046.88,216.8 1100,217 1100,217L1100,100L150,100Z"/>
<path fill="#fdc323" d="M414,451C414.33,449.5 420.5,447.43 425,446C429.5,444.57 434.17,443.4 441,442.4C447.83,441.4 458.5,440.23 466,440C473.5,439.77 477.67,440.4 486,441C494.33,441.6 506,442.77 516,443.6C526,444.43 534.33,445.6 546,446C557.67,446.4 572.67,446 586,446C599.33,446 612.67,445.67 626,446C639.33,446.33 656,447.17 666,448C676,448.83 680.67,449.73 686,451C691.33,452.27 698,453.77 698,455.6C698,457.43 691.33,460.27 686,462C680.67,463.73 674.33,464.93 666,466C657.67,467.07 646,468.07 636,468.4C626,468.73 616,468.47 606,468C596,467.53 586,466.43 576,465.6C566,464.77 556,463.83 546,463C536,462.17 526,461.17 516,460.6C506,460.03 494.33,459.87 486,459.6C477.67,459.33 473.5,459.33 466,459C458.5,458.67 448.17,458.27 441,457.6C433.83,456.93 427.5,456.1 423,455C418.5,453.9 413.67,452.5 414,451Z"/>
<path fill="#ff9910" d="M721,166C716.83,166.67 705.17,168.07 696,169C686.83,169.93 676,170.93 666,171.6C656,172.27 646,172.67 636,173C626,173.33 616,173.27 606,173.6C596,173.93 586,174.2 576,175C566,175.8 554.33,177.23 546,178.4C537.67,179.57 531.67,180.73 526,182C520.33,183.27 515,184 512,186C509,188 508.83,190.33 508,194C507.17,197.67 507.5,203.67 507,208C506.5,212.33 506.83,216.33 505,220C503.17,223.67 499.17,227 496,230C492.83,233 488.67,235.33 486,238C483.33,240.67 481,243.5 480,246C479,248.5 479.17,250.83 480,253C480.83,255.17 482.33,257.5 485,259C487.67,260.5 491.5,261.33 496,262C500.5,262.67 506.33,263.07 512,263C517.67,262.93 524.33,262.17 530,261.6C535.67,261.03 540,260.53 546,259.6C552,258.67 559.33,257.2 566,256C572.67,254.8 579.33,253.57 586,252.4C592.67,251.23 599.33,250.23 606,249C612.67,247.77 619.33,246.33 626,245C632.67,243.67 639.33,242.33 646,241C652.67,239.67 659.33,238.33 666,237C672.67,235.67 679.33,234.33 686,233C692.67,231.67 700.17,230.23 706,229C711.83,227.77 716.83,226.43 721,225.6C725.17,224.77 727,225.1 731,224C735,222.9 740,220.33 745,219C750,217.67 755.67,216.43 761,216C766.33,215.57 771.67,215.73 777,216.4C782.33,217.07 787.67,218.4 793,220C798.33,221.6 803.67,224 809,226C814.33,228 819.67,230.5 825,232C830.33,233.5 835.67,234.33 841,235C846.33,235.67 854.49,235.94 857,236C859.51,236.06 853.55,235.56 856.08,235.34C858.6,235.12 866.8,235.02 872.16,234.7C877.52,234.38 882.88,234.03 888.24,233.41C893.59,232.8 899.76,231.8 904.31,231C908.87,230.2 911.55,229.66 915.57,228.59C919.59,227.52 923.61,226.18 928.43,224.57C933.26,222.96 939.15,220.82 944.51,218.94C949.87,217.07 955.23,215.19 960.59,213.31C965.95,211.44 972.78,209.21 976.67,207.69C980.55,206.16 983.9,205.35 983.9,204.15C983.9,202.94 979.75,201.34 976.67,200.45C973.59,199.57 969.43,199.25 965.41,198.84C961.39,198.44 957.37,198.31 952.55,198.04C947.73,197.77 935.06,197.24 936.47,197.24C937.88,197.23 960.25,198.04 961,198C961.75,197.96 947,197.83 941,197C935,196.17 930,194.67 925,193C920,191.33 914.67,189.33 911,187C907.33,184.67 904,181.33 903,179C902,176.67 904,175 905,173C906,171 911.33,168.57 909,167C906.67,165.43 899,164.5 891,163.6C883,162.7 872.67,162.03 861,161.6C849.33,161.17 834.33,161.1 821,161C807.67,160.9 792.67,160.77 781,161C769.33,161.23 761,161.73 751,162.4C741,163.07 726,164.4 721,165C716,165.6 725.17,165.33 721,166Z"/>
<path fill="#ff6a04" d="M570,203C574,200 576.67,197.77 582,196C587.33,194.23 594.67,193.23 602,192.4C609.33,191.57 618.67,191.23 626,191C633.33,190.77 639.33,190.9 646,191C652.67,191.1 659.33,191.27 666,191.6C672.67,191.93 679.33,192.2 686,193C692.67,193.8 700.17,195.17 706,196.4C711.83,197.63 717.67,198.8 721,200.4C724.33,202 726,203.73 726,206C726,208.27 724.33,211.33 721,214C717.67,216.67 711.83,219.83 706,222C700.17,224.17 692.67,225.5 686,227C679.33,228.5 672.67,229.67 666,231C659.33,232.33 652.67,233.83 646,235C639.33,236.17 632.67,237 626,238C619.33,239 612.67,240 606,241C599.33,242 592.67,243.1 586,244C579.33,244.9 572,245.9 566,246.4C560,246.9 554.5,247.57 550,247C545.5,246.43 541.67,244.83 539,243C536.33,241.17 534.5,238.33 534,236C533.5,233.67 534,231.5 536,229C538,226.5 542.33,223.5 546,221C549.67,218.5 554,217 558,214C562,211 566,206 570,203Z"/>
<path fill="#4aa716" d="M694,269C694.67,266.77 697,261.5 700,259C703,256.5 708.5,255 712,254C715.5,253 716.83,253.83 721,253C725.17,252.17 731.67,250.23 737,249C742.33,247.77 747.67,246.37 753,245.6C758.33,244.83 763.67,244.07 769,244.4C774.33,244.73 779.67,245.83 785,247.6C790.33,249.37 796.33,252.6 801,255C805.67,257.4 808.33,260.1 813,262C817.67,263.9 823.67,265.47 829,266.4C834.33,267.33 839.67,267.83 845,267.6C850.33,267.37 859.15,265.2 861,265C862.85,264.8 854.22,266.41 856.08,266.37C857.94,266.33 866.8,265.49 872.16,264.76C877.52,264.04 882.88,263.1 888.24,262.03C893.59,260.96 898.95,259.75 904.31,258.33C909.67,256.91 915.03,255.31 920.39,253.51C925.75,251.71 931.11,249.52 936.47,247.56C941.83,245.6 947.19,243.46 952.55,241.77C957.91,240.08 963.27,238.69 968.63,237.43C973.99,236.17 979.35,234.94 984.71,234.22C990.07,233.49 995.43,233.17 1000.78,233.09C1006.14,233.01 1012.04,233.28 1016.86,233.73C1021.69,234.19 1025.97,235.07 1029.73,235.82C1033.48,236.57 1036.16,237.43 1039.37,238.24C1042.59,239.04 1100,240 1100,240L1100,284C1100,284 1042.59,282.45 1039.37,283.26C1036.16,284.06 1033.48,284.73 1029.73,285.67C1025.97,286.6 1021.69,287.81 1016.86,288.88C1012.04,289.95 1007.48,291.16 1000.78,292.1C994.09,293.04 984.71,293.84 976.67,294.51C968.63,295.18 960.59,295.72 952.55,296.12C944.51,296.52 936.47,296.87 928.43,296.92C920.39,296.98 912.35,296.98 904.31,296.44C896.27,295.9 885.42,294.78 880.2,293.71C874.98,292.63 876.87,290.95 873,290C869.13,289.05 862.33,288.4 857,288C851.67,287.6 846.33,287.6 841,287.6C835.67,287.6 830.33,288.1 825,288C819.67,287.9 814.33,287.83 809,287C803.67,286.17 798.33,284.23 793,283C787.67,281.77 782.33,280.27 777,279.6C771.67,278.93 767,278.77 761,279C755,279.23 747.67,280.5 741,281C734.33,281.5 726.83,282.67 721,282C715.17,281.33 710.17,278.6 706,277C701.83,275.4 698,273.73 696,272.4C694,271.07 693.33,271.23 694,269Z"/>
<path fill="#4aa716" d="M150,243C150,243 213.67,242 216,243C218.33,244 221,244.17 223,246C225,247.83 227.17,251 228,254C228.83,257 228.5,260.67 228,264C227.5,267.33 226.5,271.33 225,274C223.5,276.67 220.5,278.5 219,280C217.5,281.5 217,282 216,283C215,284 150,283 150,283L150,243Z"/>
<path fill="#4aa716" d="M721,373C726.83,370.83 734.33,369 741,368C747.67,367 754.33,366.67 761,367C767.67,367.33 774.33,368.5 781,370C787.67,371.5 795,373.83 801,376C807,378.17 812,380.33 817,383C822,385.67 827.5,388.83 831,392C834.5,395.17 836.5,398.5 838,402C839.5,405.5 838.67,409.83 840,413C841.33,416.17 844.5,418.83 846,421C847.5,423.17 849.83,424.33 849,426C848.17,427.67 845,429.33 841,431C837,432.67 831,434.77 825,436C819,437.23 811.67,438.07 805,438.4C798.33,438.73 791.67,438.57 785,438C778.33,437.43 771.67,436.33 765,435C758.33,433.67 750.67,431.83 745,430C739.33,428.17 735,426.17 731,424C727,421.83 723.83,419.67 721,417C718.17,414.33 716.83,410.5 714,408C711.17,405.5 707.33,404.33 704,402C700.67,399.67 695.67,396.33 694,394C692.33,391.67 692,390.17 694,388C696,385.83 701.5,383.5 706,381C710.5,378.5 715.17,375.17 721,373Z"/>
<path fill="#4aa716" d="M942.3,417.15C942.21,415.04 944.32,411.97 944.61,409.09C944.89,406.21 943.17,402.76 944.03,399.88C944.89,397 947.49,394.51 949.79,391.82C952.09,389.13 954.59,386.45 957.85,383.76C961.11,381.07 965.33,377.62 969.36,375.7C973.4,373.78 978,372.53 982.03,372.24C986.06,371.96 990.48,372.63 993.55,373.97C996.62,375.31 999.11,377.9 1000.46,380.3C1001.8,382.7 1000.26,386.25 1001.61,388.36C1002.95,390.48 1005.45,391.44 1008.52,392.97C1011.59,394.51 1016.19,395.85 1020.03,397.58C1023.87,399.3 1028.23,401.51 1031.55,403.33C1034.87,405.16 1037.15,406.79 1039.95,408.52C1042.76,410.24 1100,409 1100,409L1100,434C1100,434 1045.06,433.85 1039.95,433.85C1034.85,433.85 1030.65,433.91 1024.64,433.85C1018.63,433.79 1010.63,433.79 1003.91,433.51C997.19,433.22 990.48,432.74 984.33,432.12C978.19,431.51 972.24,430.88 967.06,429.82C961.88,428.76 956.89,427.13 953.24,425.79C949.6,424.45 947.01,423.2 945.18,421.76C943.36,420.32 942.4,419.26 942.3,417.15Z"/>
<path fill="#4aa716" d="M150,410C150,410 212.33,408.33 216,410C219.67,411.67 223.17,413.33 227,415C230.83,416.67 236.4,418.67 239,420C241.6,421.33 242.93,421.83 242.6,423C242.27,424.17 239.6,425.67 237,427C234.4,428.33 230.5,430 227,431C223.5,432 219.67,432.33 216,433C212.33,433.67 150,433 150,433L150,410Z"/>
<path fill="#4aa716" d="M1100,463.79L1100,600L150,600L150,464C150,464 204.33,463.67 216,464C227.67,464.33 238.5,464.6 251,465C263.5,465.4 277.67,465.9 291,466.4C304.33,466.9 317.67,467.47 331,468C344.33,468.53 357.67,469.1 371,469.6C384.33,470.1 395.17,470.37 411,471C426.83,471.63 453.5,472.73 466,473.4C478.5,474.07 477.67,474.23 486,475C494.33,475.77 506,477 516,478C526,479 536,479.93 546,481C556,482.07 566,483.4 576,484.4C586,485.4 596,486.57 606,487C616,487.43 626,487.17 636,487C646,486.83 656,486.43 666,486C676,485.57 686.83,484.8 696,484.4C705.17,484 711.83,483.93 721,483.6C730.17,483.27 741,482.83 751,482.4C761,481.97 771,481.4 781,481C791,480.6 801,480.43 811,480C821,479.57 831,479.07 841,478.4C851,477.73 861,476.9 871,476C881,475.1 892.67,473.88 901,473C909.33,472.12 913.83,471.37 921,470.7C928.17,470.03 936.35,469.64 944.03,468.97C951.71,468.3 959.38,467.34 967.06,466.67C974.74,466 982.42,465.36 990.09,464.94C997.77,464.52 1004.81,464.33 1013.12,464.14C1021.43,463.94 1031.01,463.91 1039.95,463.79C1048.9,463.68 1100,463.79 1100,463.79Z"/>
<path fill="#3b8b66" d="M930.04,268.78C930.44,266.64 933.26,264.09 936.47,261.55C939.69,259 945.05,255.92 949.33,253.51C953.62,251.1 957.64,248.95 962.2,247.08C966.75,245.2 971.58,243.41 976.67,242.26C981.76,241.1 987.39,240.3 992.75,240.16C998.1,240.03 1004.27,240.43 1008.82,241.45C1013.38,242.47 1016.86,244.26 1020.08,246.27C1023.29,248.28 1026.38,251.23 1028.12,253.51C1029.86,255.79 1030.66,257.8 1030.53,259.94C1030.4,262.09 1029.59,264.36 1027.31,266.37C1025.04,268.38 1021.28,270.39 1016.86,272C1012.44,273.61 1006.14,274.81 1000.78,276.02C995.43,277.23 990.07,278.3 984.71,279.24C979.35,280.17 973.45,281.11 968.63,281.65C963.8,282.18 960.05,282.85 955.76,282.45C951.48,282.05 946.52,280.58 942.9,279.24C939.28,277.9 936.2,276.15 934.06,274.41C931.92,272.67 929.64,270.93 930.04,268.78Z"/>
<path fill="#3b8b66" d="M742,397C743,395 747.17,391.77 751,390C754.83,388.23 760,386.73 765,386.4C770,386.07 775.67,386.9 781,388C786.33,389.1 792.33,391 797,393C801.67,395 806,397.5 809,400C812,402.5 814.17,405.33 815,408C815.83,410.67 815.33,413.73 814,416C812.67,418.27 810.17,420.33 807,421.6C803.83,422.87 799.33,423.53 795,423.6C790.67,423.67 785.67,423.1 781,422C776.33,420.9 771.33,419.17 767,417C762.67,414.83 758.67,411.5 755,409C751.33,406.5 747.17,404 745,402C742.83,400 741,399 742,397Z"/>
<path fill="#3b8b66" d="M1100,475.88L1100,600L150,600L150,476.6C150,476.6 191,476.93 216,476.6C241,476.27 265.17,475.53 291,475.6C316.83,475.67 341.83,476.57 371,477C400.17,477.43 446.83,477.7 466,478.2C485.17,478.7 477.67,478.87 486,480C494.33,481.13 506,483.33 516,485C526,486.67 536,488.57 546,490C556,491.43 566,492.67 576,493.6C586,494.53 596,495.27 606,495.6C616,495.93 626,495.7 636,495.6C646,495.5 656,495.27 666,495C676,494.73 686.83,494.3 696,494C705.17,493.7 711.83,493.47 721,493.2C730.17,492.93 741,492.77 751,492.4C761,492.03 771,491.4 781,491C791,490.6 801,490.43 811,490C821,489.57 831,489.07 841,488.4C851,487.73 861,487 871,486C881,485 892.67,483.22 901,482.4C909.33,481.58 911.91,481.57 921,481.06C930.09,480.55 944.03,480.01 955.55,479.34C967.06,478.66 980.5,477.57 990.09,477.03C999.69,476.5 1004.81,476.3 1013.12,476.11C1021.43,475.92 1031.01,475.96 1039.95,475.88C1048.9,475.81 1100,475.88 1100,475.88Z"/>
<path fill="#006da8" d="M965.09,260.75C965.63,259.35 967.77,257.07 970.24,255.6C972.7,254.13 976.4,252.71 979.88,251.9C983.37,251.1 988.06,250.51 991.14,250.78C994.22,251.04 997.17,252.38 998.37,253.51C999.58,254.64 999.31,256.19 998.37,257.53C997.43,258.87 995.29,260.42 992.75,261.55C990.2,262.67 986.31,263.61 983.1,264.28C979.88,264.95 976.13,265.62 973.45,265.57C970.77,265.52 968.41,264.76 967.02,263.96C965.63,263.16 964.55,262.14 965.09,260.75Z"/>
<path fill="#006da8" d="M1100,490.85L1100,600L150,600L150,490C150,490 204.33,491 216,490C227.67,489 238.5,487.93 251,487C263.5,486.07 277.67,485.07 291,484.4C304.33,483.73 317.67,483.23 331,483C344.33,482.77 357.67,483 371,483C384.33,483 399.33,482.77 411,483C422.67,483.23 431.83,483.57 441,484.4C450.17,485.23 458.5,486.8 466,488C473.5,489.2 477.67,489.93 486,491.6C494.33,493.27 506,496 516,498C526,500 536,502.27 546,503.6C556,504.93 566,505.43 576,506C586,506.57 596,506.73 606,507C616,507.27 626,507.5 636,507.6C646,507.7 656,507.7 666,507.6C676,507.5 686.83,507.23 696,507C705.17,506.77 711.83,506.53 721,506.2C730.17,505.87 741,505.53 751,505C761,504.47 771,503.67 781,503C791,502.33 801,501.67 811,501C821,500.33 831,499.67 841,499C851,498.33 861,497.77 871,497C881,496.23 892.67,495.04 901,494.4C909.33,493.76 913.83,493.65 921,493.16C928.17,492.66 934.43,491.81 944.03,491.43C953.63,491.04 967.06,490.95 978.58,490.85C990.09,490.76 1002.89,490.85 1013.12,490.85C1023.35,490.85 1031.01,490.85 1039.95,490.85C1048.9,490.85 1100,490.85 1100,490.85Z"/>
<use href="#coast" transform="translate(0,153.78)"/>
</g>
<rect x="215.6" y="153.78" width="824.29" height="372.57" fill="none" stroke="#000" stroke-width="1.67"/>
<path d="M215.6,526.35v7.3M352.98,526.35v7.3M490.36,526.35v7.3M627.75,526.35v7.3M765.13,526.35v7.3M902.51,526.35v7.3M1039.87,526.35v7.3M215.6,153.78h-7.3M215.6,215.87h-7.3M215.6,277.97h-7.3M215.6,340.06h-7.3M215.6,402.16h-7.3M215.6,464.25h-7.3M215.6,526.35h-7.3" stroke="#000" stroke-width="2.08" fill="none"/>
<g class="t8 m">
<text x="215.6" y="553.25">0°E</text>
<text x="352.98" y="553.25">60°E</text>
<text x="490.36" y="553.25">120°E</text>
<text x="627.75" y="553.25">180°</text>
<text x="765.13" y="553.25">120°W</text>
<text x="902.51" y="553.25">60°W</text>
<text x="1039.87" y="553.25">0°W</text>
</g><g class="t8 e">
<text x="201" y="159.88">90°N</text>
<text x="201" y="221.97">60°N</text>
<text x="201" y="284.07">30°N</text>
<text x="201" y="346.16">0°</text>
<text x="201" y="408.26">30°S</text>
<text x="201" y="470.35">60°S</text>
<text x="201" y="532.45">90°S</text>
</g>
<text class="t95" x="215.6" y="142.18">TEST (None)</text>
<text class="t95 e" x="1039.89" y="142.18">K</text>
<g class="t95">
<text x="1061.57" y="134.69">Max</text>
<text x="1061.57" y="156.69">Mean</text>
<text x="1061.57" y="178.69">Min</text>
</g><g class="t95 e">
<text x="1188.47" y="134.69">225.98</text>
<text x="1188.47" y="156.69">217.80</text>
<text x="1188.47" y="178.69">210.13</text>
</g>
<g shape-rendering="crispEdges">
<rect x="1061.57" y="451" width="41.56" height="27" fill="#0032ff"/>
<rect x="1061.57" y="424" width="41.56" height="27" fill="#006da8"/>
<rect x="1061.57" y="397" width="41.56" height="27" fill="#3b8b66"/>
<rect x="1061.57" y="370" width="41.56" height="27" fill="#4aa716"/>
<rect x="1061.57" y="344" width="41.56" height="26" fill="#93ba1a"/>
<rect x="1061.57" y="317" width="41.56" height="27" fill="#d4c926"/>
<rect x="1061.57" y="290" width="41.56" height="27" fill="#fdc323"/>
<rect x="1061.57" y="263" width="41.56" height="27" fill="#ff9910"/>
<rect x="1061.57" y="236" width="41.56" height="27" fill="#ff6a04"/>
<rect x="1061.57" y="209" width="41.56" height="27" fill="#ff2d00"/>
</g>
<path d="M1061.57,476.44L1061.57,477.44L1082.35,490.88L1103.13,477.44L1103.13,476.44Z" fill="#0032ff"/>
<path d="M1061.57,209.63L1061.57,208.63L1082.35,195.19L1103.13,208.63L1103.13,209.63Z" fill="#ff2d00"/>
<path d="M1061.57,477.44L1082.35,490.88L1103.13,477.44L1103.13,208.63L1082.35,195.19L1061.57,208.63Z" fill="none" stroke="#000" stroke-width="1.67" stroke-linejoin="miter"/>
<g class="t9 e">
<text x="1165.63" y="458.16">210.0</text>
<text x="1165.63" y="431.28">212.0</text>
<text x="1165.63" y="404.4">214.0</text>
<text x="1165.63" y="377.52">216.0</text>
<text x="1165.63" y="350.63">218.0</text>
<text x="1165.63" y="323.75">220.0</text>
<text x="1165.63" y="296.88">222.0</text>
<text x="1165.63" y="270">224.0</text>
<text x="1165.63" y="243.12">226.0</text>
</g>
<g clip-path="url(#c1)">
<rect x="215.6" y="623.87" width="824.29" height="372.57" fill="#93ba1a"/>
<path fill="#d4c926" d="M150,570L150,700C150,700 211,700.13 216,700C221,699.87 225.83,699.33 231,699.6C236.17,699.87 242,700.53 247,701.6C252,702.67 256.67,704.1 261,706C265.33,707.9 269.67,710.67 273,713C276.33,715.33 279.83,717.5 281,720C282.17,722.5 281.67,725 280,728C278.33,731 274.17,734.83 271,738C267.83,741.17 264,744 261,747C258,750 255,753.17 253,756C251,758.83 249.33,761.5 249,764C248.67,766.5 249,769.17 251,771C253,772.83 256,774 261,775C266,776 274.33,776.33 281,777C287.67,777.67 294.33,778 301,779C307.67,780 314.33,782 321,783C327.67,784 335.33,784.57 341,785C346.67,785.43 350.67,785.27 355,785.6C359.33,785.93 363.67,786.1 367,787C370.33,787.9 371.67,790.1 375,791C378.33,791.9 382.67,792.3 387,792.4C391.33,792.5 396.33,792 401,791.6C405.67,791.2 410,790.33 415,790C420,789.67 425.67,789.53 431,789.6C436.33,789.67 442.67,789.67 447,790.4C451.33,791.13 453.83,793.07 457,794C460.17,794.93 462.5,794.9 466,796C469.5,797.1 475.07,798.43 478,800.6C480.93,802.77 483.1,806.6 483.6,809C484.1,811.4 482.27,813.1 481,815C479.73,816.9 478,818.83 476,820.4C474,821.97 473.17,823.13 469,824.4C464.83,825.67 457.33,827.33 451,828C444.67,828.67 437.67,828.07 431,828.4C424.33,828.73 416.67,829.23 411,830C405.33,830.77 402,831.33 397,833C392,834.67 385.33,838.33 381,840C376.67,841.67 375.33,842.33 371,843C366.67,843.67 360.33,843.77 355,844C349.67,844.23 344.33,844.73 339,844.4C333.67,844.07 328.33,842.73 323,842C317.67,841.27 312.33,840.17 307,840C301.67,839.83 297,840.67 291,841C285,841.33 276.67,841.17 271,842C265.33,842.83 260.73,843.67 257,846C253.27,848.33 250,854 248.6,856C247.2,858 247.2,856.83 248.6,858C250,859.17 253.27,861.5 257,863C260.73,864.5 266.33,866.1 271,867C275.67,867.9 281,867.5 285,868.4C289,869.3 291.33,871.53 295,872.4C298.67,873.27 302.33,873.67 307,873.6C311.67,873.53 317.67,872.77 323,872C328.33,871.23 333.67,870 339,869C344.33,868 349.67,866.67 355,866C360.33,865.33 366,865 371,865C376,865 380,864.83 385,866C390,867.17 395,869.83 401,872C407,874.17 414.33,876.67 421,879C427.67,881.33 434.93,883.8 441,886C447.07,888.2 457.4,890.53 457.4,892.2C457.4,893.87 447.07,894.7 441,896C434.93,897.3 427.67,898.93 421,900C414.33,901.07 407.67,901.8 401,902.4C394.33,903 387.33,903.33 381,903.6C374.67,903.87 368.67,904.1 363,904C357.33,903.9 352.33,903.5 347,903C341.67,902.5 335.67,901.83 331,901C326.33,900.17 323,899.33 319,898C315,896.67 311,894.5 307,893C303,891.5 299,889.9 295,889C291,888.1 286.67,887.6 283,887.6C279.33,887.6 276,887.93 273,889C270,890.07 268.67,892.33 265,894C261.33,895.67 256,897.33 251,899C246,900.67 240.83,902.33 235,904C229.17,905.67 222.33,907.33 216,909C209.67,910.67 150,909 150,909L150,926C150,926 207.67,925 216,926C224.33,927 231.83,928.17 241,929C250.17,929.83 261,930.33 271,931C281,931.67 291,932.33 301,933C311,933.67 321,934.33 331,935C341,935.67 351,936.23 361,937C371,937.77 381,938.77 391,939.6C401,940.43 411,941.33 421,942C431,942.67 443.5,943.2 451,943.6C458.5,944 458.5,943.83 466,944.4C473.5,944.97 486,946.13 496,947C506,947.87 516,948.83 526,949.6C536,950.37 546,951.13 556,951.6C566,952.07 576,952.4 586,952.4C596,952.4 607,952.07 616,951.6C625,951.13 630,950.53 640,949.6C650,948.67 665,947.2 676,946C687,944.8 698.5,943.27 706,942.4C713.5,941.53 715.17,941.37 721,940.8C726.83,940.23 732.67,939.63 741,939C749.33,938.37 761,937.67 771,937C781,936.33 791.33,935.83 801,935C810.67,934.17 821,933 829,932C837,931 843.83,930.17 849,929C854.17,927.83 858.33,926.1 860,925C861.67,923.9 861.5,923.57 859,922.4C856.5,921.23 850.67,919.33 845,918C839.33,916.67 832.33,915.4 825,914.4C817.67,913.4 810,912.47 801,912C792,911.53 781,911.6 771,911.6C761,911.6 749.33,911.67 741,912C732.67,912.33 728.5,913.6 721,913.6C713.5,913.6 703.5,912.6 696,912C688.5,911.4 682.67,910.67 676,910C669.33,909.33 662.67,908.73 656,908C649.33,907.27 642.67,906.43 636,905.6C629.33,904.77 622.67,903.77 616,903C609.33,902.23 602.67,901.5 596,901C589.33,900.5 582.67,900.23 576,900C569.33,899.77 562.67,899.6 556,899.6C549.33,899.6 542,900.1 536,900C530,899.9 524.83,899.5 520,899C515.17,898.5 507,898.67 507,897C507,895.33 515.5,891.17 520,889C524.5,886.83 529,885.67 534,884C539,882.33 544.67,881 550,879C555.33,877 561.67,874.83 566,872C570.33,869.17 573.67,865.17 576,862C578.33,858.83 578.33,855.67 580,853C581.67,850.33 583,847.83 586,846C589,844.17 593.33,843.17 598,842C602.67,840.83 608.67,840.17 614,839C619.33,837.83 624.67,836.67 630,835C635.33,833.33 640.67,831 646,829C651.33,827 657,825 662,823C667,821 672.33,819.17 676,817C679.67,814.83 683,812.33 684,810C685,807.67 684,805.33 682,803C680,800.67 675,798.5 672,796C669,793.5 667,790.67 664,788C661,785.33 657.67,781.67 654,780C650.33,778.33 646.67,778.17 642,778C637.33,777.83 630.67,779.17 626,779C621.33,778.83 618,777.83 614,777C610,776.17 606.67,774.67 602,774C597.33,773.33 591.33,773.5 586,773C580.67,772.5 575,772.17 570,771C565,769.83 558.93,767.83 556,766C553.07,764.17 551.73,762.33 552.4,760C553.07,757.67 556.4,754.33 560,752C563.6,749.67 569,747.83 574,746C579,744.17 584.67,742.5 590,741C595.33,739.5 600.67,738.17 606,737C611.33,735.83 616.67,734.83 622,734C627.33,733.17 632.67,732.73 638,732C643.33,731.27 648.67,730.6 654,729.6C659.33,728.6 664.67,727.27 670,726C675.33,724.73 680.67,723.17 686,722C691.33,720.83 696.17,719.93 702,719C707.83,718.07 715.17,716.97 721,716.4C726.83,715.83 731.67,716 737,715.6C742.33,715.2 747.67,714.1 753,714C758.33,713.9 763.67,714.27 769,715C774.33,715.73 779.67,716.97 785,718.4C790.33,719.83 795.67,722 801,723.6C806.33,725.2 811.67,726.87 817,728C822.33,729.13 827.67,729.9 833,730.4C838.33,730.9 843.67,731.13 849,731C854.33,730.87 859.67,730.27 865,729.6C870.33,728.93 875.67,728.1 881,727C886.33,725.9 891.67,724.33 897,723C902.33,721.67 906.42,720.09 913,719C919.58,717.91 929.88,717.43 936.47,716.47C943.06,715.51 947.19,714.27 952.55,713.26C957.91,712.24 963.27,711.3 968.63,710.36C973.99,709.42 979.35,708.49 984.71,707.63C990.07,706.77 995.43,706.02 1000.78,705.22C1006.14,704.41 1012.04,703.47 1016.86,702.8C1021.69,702.13 1025.87,701.6 1029.73,701.2C1033.58,700.79 1036.59,700.66 1040.02,700.39C1043.45,700.12 1100,700 1100,700L1100,570L150,570Z"/>
<path fill="#d4c926" d="M1039.95,910.76C1037.15,911.53 1034.1,911.91 1031.55,913.06C1029,914.21 1024.83,916.13 1024.64,917.67C1024.45,919.2 1027.84,921.03 1030.4,922.28C1032.95,923.52 1036.77,924.19 1039.95,925.15C1043.14,926.11 1100,925 1100,925L1100,911C1100,911 1042.76,909.99 1039.95,910.76Z"/>
<path fill="#93ba1a" d="M360,647C361,645.83 365.83,644.77 371,644C376.17,643.23 384.33,642.73 391,642.4C397.67,642.07 404.33,642 411,642C417.67,642 424.33,642.13 431,642.4C437.67,642.67 445.17,643.17 451,643.6C456.83,644.03 462.83,644.27 466,645C469.17,645.73 469.67,646.83 470,648C470.33,649.17 469.1,651.17 468,652C466.9,652.83 464.4,652.07 463.4,653C462.4,653.93 461.9,655.93 462,657.6C462.1,659.27 462.33,661.27 464,663C465.67,664.73 471,666.57 472,668C473,669.43 475.17,671.43 470,671.6C464.83,671.77 449.17,670 441,669C432.83,668 427.67,666.93 421,665.6C414.33,664.27 407.67,662.6 401,661C394.33,659.4 387,657.67 381,656C375,654.33 368.5,652.5 365,651C361.5,649.5 359,648.17 360,647Z"/>
<path fill="#fdc323" d="M150,644C150,644 211,642.33 216,644C221,645.67 225.17,647 231,649C236.83,651 244.67,653.67 251,656C257.33,658.33 264,660.33 269,663C274,665.67 276.67,669 281,672C285.33,675 291,678.17 295,681C299,683.83 303,686.67 305,689C307,691.33 307.67,693.33 307,695C306.33,696.67 304,698.33 301,699C298,699.67 293.33,699.67 289,699C284.67,698.33 279.67,696.33 275,695C270.33,693.67 265.67,692 261,691C256.33,690 252,689.17 247,689C242,688.83 236.17,689.33 231,690C225.83,690.67 221,692 216,693C211,694 150,693 150,693L150,644Z"/>
<path fill="#fdc323" d="M348,740C348.17,738 348.17,732.83 349,730C349.83,727.17 350,724.73 353,723C356,721.27 361.33,720.43 367,719.6C372.67,718.77 380.33,718.1 387,718C393.67,717.9 400.33,718.67 407,719C413.67,719.33 421.33,720.17 427,720C432.67,719.83 436.67,719.5 441,718C445.33,716.5 449.67,713.33 453,711C456.33,708.67 458.83,705.67 461,704C463.17,702.33 463.5,701.67 466,701C468.5,700.33 472,700.67 476,700C480,699.33 485,698.33 490,697C495,695.67 501,693.83 506,692C511,690.17 516,688.33 520,686C524,683.67 528,680.67 530,678C532,675.33 531,672.5 532,670C533,667.5 533,665.17 536,663C539,660.83 545,659.17 550,657C555,654.83 560,652.33 566,650C572,647.67 579.33,645.33 586,643C592.67,640.67 599.33,638.33 606,636C612.67,633.67 620.33,631.17 626,629C631.67,626.83 635.33,625 640,623C644.67,621 650,560 650,560L985,560C985,560 972.92,622.68 979.88,623.22C986.85,623.75 994.62,623.75 1000.78,624.82C1006.95,625.9 1012.31,627.91 1016.86,629.65C1021.42,631.39 1025.04,633.53 1028.12,635.27C1031.2,637.02 1033.37,638.89 1035.35,640.1C1037.34,641.3 1038.46,641.71 1040.02,642.51C1041.57,643.31 1100,643 1100,643L1100,691.5C1100,691.5 1043.45,691.01 1040.02,691.55C1036.59,692.09 1033.58,692.49 1029.73,693.16C1025.87,693.83 1021.69,694.68 1016.86,695.57C1012.04,696.45 1006.14,697.52 1000.78,698.46C995.43,699.4 990.07,700.23 984.71,701.2C979.35,702.16 973.99,703.23 968.63,704.25C963.27,705.27 957.91,706.29 952.55,707.31C947.19,708.32 943.06,709.41 936.47,710.36C929.88,711.31 919.58,711.89 913,713C906.42,714.11 902.33,715.77 897,717C891.67,718.23 886.33,719.4 881,720.4C875.67,721.4 870.33,722.33 865,723C859.67,723.67 854.33,724.3 849,724.4C843.67,724.5 838.33,724.27 833,723.6C827.67,722.93 822.33,721.73 817,720.4C811.67,719.07 806.33,717.27 801,715.6C795.67,713.93 790.33,711.73 785,710.4C779.67,709.07 774.33,708.17 769,707.6C763.67,707.03 758.33,706.77 753,707C747.67,707.23 742.33,708.23 737,709C731.67,709.77 725.17,711.93 721,711.6C716.83,711.27 715.83,707.33 712,707C708.17,706.67 703,708.7 698,709.6C693,710.5 687.33,711.5 682,712.4C676.67,713.3 671.33,714.07 666,715C660.67,715.93 655.33,717 650,718C644.67,719 639.33,720 634,721C628.67,722 623.33,723 618,724C612.67,725 607.33,726 602,727C596.67,728 591.33,729 586,730C580.67,731 575.33,732.07 570,733C564.67,733.93 559.33,734.7 554,735.6C548.67,736.5 543.33,737.5 538,738.4C532.67,739.3 527.33,740.13 522,741C516.67,741.87 511,742.93 506,743.6C501,744.27 496.67,744.87 492,745C487.33,745.13 482.33,744.83 478,744.4C473.67,743.97 471.17,742.53 466,742.4C460.83,742.27 452.83,743.67 447,743.6C441.17,743.53 435.33,742.93 431,742C426.67,741.07 425.67,739 421,738C416.33,737 406.83,736 403,736C399.17,736 398.33,737 398,738C397.67,739 402.83,740.67 401,742C399.17,743.33 392,745 387,746C382,747 376.33,747.83 371,748C365.67,748.17 358.83,748 355,747C351.17,746 349.17,743.17 348,742C346.83,740.83 347.83,742 348,740Z"/>
<path fill="#fdc323" d="M365,923C365,921.67 372.67,919.33 377,918C381.33,916.67 385.33,915.93 391,915C396.67,914.07 404.33,913.07 411,912.4C417.67,911.73 424.33,911.23 431,911C437.67,910.77 445.17,910.9 451,911C456.83,911.1 458.5,911.27 466,911.6C473.5,911.93 486,912.6 496,913C506,913.4 516,913.77 526,914C536,914.23 546,914.23 556,914.4C566,914.57 576,914.57 586,915C596,915.43 606,916.17 616,917C626,917.83 637,918.9 646,920C655,921.1 663.33,922.43 670,923.6C676.67,924.77 682.83,925.93 686,927C689.17,928.07 690.67,928.67 689,930C687.33,931.33 681.5,933.5 676,935C670.5,936.5 664.33,937.83 656,939C647.67,940.17 636,941.23 626,942C616,942.77 606,943.33 596,943.6C586,943.87 576,943.87 566,943.6C556,943.33 546,942.67 536,942C526,941.33 514.33,940.27 506,939.6C497.67,938.93 492.67,938.43 486,938C479.33,937.57 471.83,937.73 466,937C460.17,936.27 456.83,934.37 451,933.6C445.17,932.83 437.67,932.83 431,932.4C424.33,931.97 417.67,931.67 411,931C404.33,930.33 396.67,929.23 391,928.4C385.33,927.57 381.33,926.9 377,926C372.67,925.1 365,924.33 365,923Z"/>
<path fill="#ff9910" d="M476,722C476.67,719.5 478.67,716.5 482,714C485.33,711.5 491,709 496,707C501,705 506.67,703.67 512,702C517.33,700.33 522.33,699 528,697C533.67,695 540.33,692.5 546,690C551.67,687.5 557.33,684.67 562,682C566.67,679.33 570,676.67 574,674C578,671.33 581.33,668.33 586,666C590.67,663.67 596,661.83 602,660C608,658.17 615.33,656.5 622,655C628.67,653.5 635.33,652.23 642,651C648.67,649.77 655.33,648.7 662,647.6C668.67,646.5 675.33,645.4 682,644.4C688.67,643.4 695.5,642.4 702,641.6C708.5,640.8 712.83,640.2 721,639.6C729.17,639 741,638.43 751,638C761,637.57 771,637.07 781,637C791,636.93 801,637.27 811,637.6C821,637.93 833.49,638.58 841,639C848.51,639.42 850.89,639.51 856.08,640.1C861.27,640.68 866.8,641.44 872.16,642.51C877.52,643.58 882.88,645.06 888.24,646.53C893.59,648 899.49,649.75 904.31,651.35C909.14,652.96 913.69,654.17 917.18,656.18C920.66,658.19 922.8,661 925.22,663.41C927.63,665.82 929.24,668.91 931.65,670.65C934.06,672.39 936.2,673.59 939.69,673.86C943.17,674.13 947.73,673.06 952.55,672.26C957.37,671.45 963.27,669.98 968.63,669.04C973.99,668.1 979.35,667.08 984.71,666.63C990.07,666.17 995.43,666.17 1000.78,666.31C1006.14,666.44 1012.04,666.71 1016.86,667.43C1021.69,668.15 1026.19,669.36 1029.73,670.65C1033.26,671.93 1038.09,673.54 1038.09,675.15C1038.09,676.76 1033.26,678.77 1029.73,680.29C1026.19,681.82 1021.69,682.84 1016.86,684.31C1012.04,685.79 1006.14,687.66 1000.78,689.14C995.43,690.61 990.07,691.87 984.71,693.16C979.35,694.44 973.99,695.65 968.63,696.86C963.27,698.06 957.91,699.13 952.55,700.39C947.19,701.65 941.83,703.21 936.47,704.41C931.11,705.62 924.3,707.7 920.39,707.63C916.48,707.56 916.9,703.94 913,704C909.1,704.06 902.33,706.83 897,708C891.67,709.17 886.33,710 881,711C875.67,712 870.33,713.33 865,714C859.67,714.67 854.33,715 849,715C843.67,715 838.33,714.77 833,714C827.67,713.23 822.33,711.9 817,710.4C811.67,708.9 806.33,706.73 801,705C795.67,703.27 790.33,701.33 785,700C779.67,698.67 774.33,697.5 769,697C763.67,696.5 758.33,696.57 753,697C747.67,697.43 742.33,698.6 737,699.6C731.67,700.6 725.5,702.77 721,703C716.5,703.23 714.5,700.83 710,701C705.5,701.17 699.33,703 694,704C688.67,705 683.33,706.07 678,707C672.67,707.93 667.33,708.7 662,709.6C656.67,710.5 651.33,711.5 646,712.4C640.67,713.3 635.33,714.07 630,715C624.67,715.93 619.33,717 614,718C608.67,719 603.33,720 598,721C592.67,722 587.33,723 582,724C576.67,725 571.33,726.07 566,727C560.67,727.93 555.33,728.77 550,729.6C544.67,730.43 539.33,731.27 534,732C528.67,732.73 523.33,733.6 518,734C512.67,734.4 507.33,734.73 502,734.4C496.67,734.07 490,732.9 486,732C482,731.1 479.67,730.67 478,729C476.33,727.33 475.33,724.5 476,722Z"/>
<path fill="#ff6a04" d="M518.4,718C518.73,716.33 522.4,714.17 526,712C529.6,709.83 535,707.5 540,705C545,702.5 550.67,699.67 556,697C561.33,694.33 566.67,691.67 572,689C577.33,686.33 583,683.33 588,681C593,678.67 597,676.83 602,675C607,673.17 612,671.43 618,670C624,668.57 631.33,667.57 638,666.4C644.67,665.23 651.33,663.9 658,663C664.67,662.1 671.33,661.57 678,661C684.67,660.43 690.83,660.1 698,659.6C705.17,659.1 714.5,658.6 721,658C727.5,657.4 731,657 737,656C743,655 749.67,653.07 757,652C764.33,650.93 773,650 781,649.6C789,649.2 797,649.37 805,649.6C813,649.83 821,650.1 829,651C837,651.9 846.88,653.47 853,655C859.12,656.53 861.46,658.66 865.73,660.2C869.99,661.73 874.3,662.61 878.59,664.22C882.88,665.82 887.7,667.83 891.45,669.84C895.2,671.85 898.69,674 901.1,676.27C903.51,678.55 905.39,681.37 905.92,683.51C906.46,685.65 905.92,687.26 904.31,689.14C902.71,691.01 899.49,693.16 896.27,694.76C893.06,696.37 889.04,697.71 885.02,698.78C881,699.86 876.98,700.53 872.16,701.2C867.33,701.87 861.27,702.84 856.08,702.8C850.89,702.77 846.18,701.8 841,701C835.82,700.2 830.33,699.17 825,698C819.67,696.83 814.33,695.33 809,694C803.67,692.67 798.33,691 793,690C787.67,689 782.33,688.4 777,688C771.67,687.6 766.33,687.33 761,687.6C755.67,687.87 750,688.7 745,689.6C740,690.5 735,691.93 731,693C727,694.07 724.5,695.67 721,696C717.5,696.33 714.5,694.67 710,695C705.5,695.33 699.33,697.1 694,698C688.67,698.9 683.33,699.57 678,700.4C672.67,701.23 667.33,702.13 662,703C656.67,703.87 651.33,704.77 646,705.6C640.67,706.43 635.33,707.2 630,708C624.67,708.8 619.33,709.47 614,710.4C608.67,711.33 603.33,712.5 598,713.6C592.67,714.7 587.33,715.93 582,717C576.67,718.07 571.33,719 566,720C560.67,721 555.33,722.4 550,723C544.67,723.6 538.33,723.77 534,723.6C529.67,723.43 526.6,722.93 524,722C521.4,721.07 518.07,719.67 518.4,718Z"/>
<path fill="#ff2d00" d="M680.8,688C680.8,688.78 680.06,689.64 678.78,690.34C677.5,691.05 675.43,691.73 673.12,692.22C670.81,692.71 667.82,693.09 664.94,693.26C662.06,693.44 658.74,693.44 655.86,693.26C652.98,693.09 649.99,692.71 647.68,692.22C645.37,691.73 643.3,691.05 642.02,690.34C640.74,689.64 640,688.78 640,688C640,687.22 640.74,686.36 642.02,685.66C643.3,684.95 645.37,684.27 647.68,683.78C649.99,683.29 652.98,682.91 655.86,682.74C658.74,682.56 662.06,682.56 664.94,682.74C667.82,682.91 670.81,683.29 673.12,683.78C675.43,684.27 677.5,684.95 678.78,685.66C680.06,686.36 680.8,687.22 680.8,688Z"/>
<path fill="#ff2d00" d="M803,670C803.67,668.67 807.33,666.73 811,666.4C814.67,666.07 820.33,667 825,668C829.67,669 834.33,670.9 839,672.4C843.67,673.9 849.17,675.57 853,677C856.83,678.43 861,679.67 862,681C863,682.33 861.5,684.33 859,685C856.5,685.67 851.33,685.5 847,685C842.67,684.5 837.67,683.17 833,682C828.33,680.83 823.33,679.27 819,678C814.67,676.73 809.67,675.73 807,674.4C804.33,673.07 802.33,671.33 803,670Z"/>
<path fill="#4aa716" d="M150,710C150,710 212.33,709.47 216,710C219.67,710.53 223.5,710.77 227,711.6C230.5,712.43 234,713.6 237,715C240,716.4 243.33,718.5 245,720C246.67,721.5 247.33,722.5 247,724C246.67,725.5 244.67,727.17 243,729C241.33,730.83 239,732.67 237,735C235,737.33 233.33,740.67 231,743C228.67,745.33 225.5,747.33 223,749C220.5,750.67 218.33,751.67 216,753C213.67,754.33 150,753 150,753L150,710Z"/>
<path fill="#4aa716" d="M648,747C648.33,745 654,742.17 658,740C662,737.83 667.33,735.83 672,734C676.67,732.17 681,730.4 686,729C691,727.6 696.17,726.43 702,725.6C707.83,724.77 715.83,724 721,724C726.17,724 729,724.77 733,725.6C737,726.43 741,727.27 745,729C749,730.73 753.83,733.83 757,736C760.17,738.17 762.67,740 764,742C765.33,744 763.5,746.67 765,748C766.5,749.33 769.67,750 773,750C776.33,750 781.33,749.33 785,748C788.67,746.67 791.67,743.6 795,742C798.33,740.4 800.67,739.07 805,738.4C809.33,737.73 815,738.07 821,738C827,737.93 834.33,738.17 841,738C847.67,737.83 854.33,737.67 861,737C867.67,736.33 875,735.1 881,734C887,732.9 893.11,731.39 897,730.4C900.89,729.41 900.42,728.98 904.31,728.05C908.21,727.12 915.03,725.82 920.39,724.83C925.75,723.84 931.11,723.01 936.47,722.1C941.83,721.19 947.19,720.25 952.55,719.36C957.91,718.48 963.27,717.6 968.63,716.79C973.99,715.99 979.35,715.26 984.71,714.54C990.07,713.82 995.43,713.07 1000.78,712.45C1006.14,711.83 1012.04,711.3 1016.86,710.84C1021.69,710.39 1025.87,709.99 1029.73,709.72C1033.58,709.45 1036.59,709.4 1040.02,709.24C1043.45,709.07 1100,709 1100,709L1100,757C1100,757 1040.77,755.6 1040.02,756.67C1039.27,757.74 1039.48,758.41 1037.77,759.88C1036.05,761.36 1033.21,763.5 1029.73,765.51C1026.24,767.52 1021.69,770.41 1016.86,771.94C1012.04,773.47 1006.14,774.06 1000.78,774.67C995.43,775.29 990.07,775.56 984.71,775.64C979.35,775.72 973.99,775.43 968.63,775.16C963.27,774.89 957.91,774.3 952.55,774.03C947.19,773.76 941.83,773.71 936.47,773.55C931.11,773.39 925.75,773.42 920.39,773.07C915.03,772.72 909.67,772.16 904.31,771.46C898.95,770.76 893.59,769.8 888.24,768.89C882.88,767.98 877.52,766.9 872.16,765.99C866.8,765.08 860.6,763.49 856.08,763.42C851.55,763.35 849.51,765.67 845,765.6C840.49,765.53 834.33,763.53 829,763C823.67,762.47 818.33,762.17 813,762.4C807.67,762.63 802.33,763.47 797,764.4C791.67,765.33 786.33,767.07 781,768C775.67,768.93 770,770 765,770C760,770 755.67,769.17 751,768C746.33,766.83 742,764.17 737,763C732,761.83 726.83,761.33 721,761C715.17,760.67 707.83,761.33 702,761C696.17,760.67 691.33,759.83 686,759C680.67,758.17 675,757.17 670,756C665,754.83 659.67,753.5 656,752C652.33,750.5 647.67,749 648,747Z"/>
<path fill="#4aa716" d="M721,837C726.17,835.57 734.33,834.63 741,834.4C747.67,834.17 754.33,834.83 761,835.6C767.67,836.37 774.33,837.93 781,839C787.67,840.07 795,840.83 801,842C807,843.17 812.33,844.17 817,846C821.67,847.83 825.67,850.33 829,853C832.33,855.67 835.33,858.5 837,862C838.67,865.5 838.33,869.83 839,874C839.67,878.17 841,883.67 841,887C841,890.33 841,891.9 839,894C837,896.1 833.67,898.43 829,899.6C824.33,900.77 817.33,900.77 811,901C804.67,901.23 797.67,901.1 791,901C784.33,900.9 777.67,900.57 771,900.4C764.33,900.23 757.67,900.13 751,900C744.33,899.87 736,899.77 731,899.6C726,899.43 724.5,899.43 721,899C717.5,898.57 714.17,898 710,897C705.83,896 700.67,894.67 696,893C691.33,891.33 686.67,889.33 682,887C677.33,884.67 671.5,881.5 668,879C664.5,876.5 660.67,874.33 661,872C661.33,869.67 666.5,867.33 670,865C673.5,862.67 677.67,860.5 682,858C686.33,855.5 691.33,852.5 696,850C700.67,847.5 705.83,845.17 710,843C714.17,840.83 715.83,838.43 721,837Z"/>
<path fill="#4aa716" d="M943.11,868.73C943.11,865.95 945.41,863.93 947.49,860.67C949.56,857.41 952.86,852.8 955.55,849.15C958.23,845.51 961.3,841.48 963.61,838.79C965.91,836.1 967.25,834.47 969.36,833.03C971.48,831.59 973.59,830.25 976.27,830.15C978.96,830.06 982.42,831.02 985.49,832.46C988.56,833.89 991.63,836.58 994.7,838.79C997.77,841 1001.42,843.2 1003.91,845.7C1006.41,848.19 1008.13,851.26 1009.67,853.76C1011.2,856.25 1011.78,858.75 1013.12,860.67C1014.47,862.59 1015.43,863.74 1017.73,865.27C1020.03,866.81 1024.26,868.44 1026.94,869.88C1029.63,871.32 1031.68,872.57 1033.85,873.91C1036.02,875.25 1037.92,876.6 1039.95,877.94C1041.99,879.28 1100,878 1100,878L1100,892C1100,892 1042.76,891.18 1039.95,892.34C1037.15,893.49 1034.48,894.73 1031.55,895.79C1028.61,896.85 1025.79,897.9 1022.34,898.67C1018.88,899.44 1014.66,899.92 1010.82,900.4C1006.98,900.88 1003.14,901.36 999.3,901.55C995.47,901.74 991.63,901.84 987.79,901.55C983.95,901.26 979.73,900.49 976.27,899.82C972.82,899.15 969.75,898.86 967.06,897.52C964.37,896.17 962.26,893.87 960.15,891.76C958.04,889.65 956.51,887.25 954.39,884.85C952.28,882.45 949.37,880.05 947.49,877.37C945.6,874.68 943.11,871.51 943.11,868.73Z"/>
<path fill="#4aa716" d="M150,880C150,880 214.33,878.13 216,880C217.67,881.87 221,883.77 221,885.6C221,887.43 217.67,889.2 216,891C214.33,892.8 150,891 150,891L150,880Z"/>
<path fill="#4aa716" d="M1100,934.14L1100,1100L150,1100L150,935C150,935 204.33,934 216,935C227.67,936 238.5,937 251,938C263.5,939 277.67,940.07 291,941C304.33,941.93 317.67,942.77 331,943.6C344.33,944.43 357.67,945.27 371,946C384.33,946.73 399.33,947.33 411,948C422.67,948.67 431.83,949.37 441,950C450.17,950.63 456.83,951.3 466,951.8C475.17,952.3 486,952.3 496,953C506,953.7 516,955.17 526,956C536,956.83 546,957.5 556,958C566,958.5 576,959 586,959C596,959 607,958.5 616,958C625,957.5 630,956.73 640,956C650,955.27 665,954.4 676,953.6C687,952.8 698.5,951.77 706,951.2C713.5,950.63 713.5,950.73 721,950.2C728.5,949.67 741,948.7 751,948C761,947.3 771,946.6 781,946C791,945.4 801,945 811,944.4C821,943.8 831,943.13 841,942.4C851,941.67 861,940.8 871,940C881,939.2 891,938.43 901,937.6C911,936.77 922.87,935.73 931,935C939.13,934.27 941.86,933.55 949.79,933.22C957.72,932.88 967.06,932.98 978.58,932.98C990.09,932.98 1008.65,933.02 1018.88,933.22C1029.11,933.41 1032.93,933.83 1039.95,934.14C1046.98,934.44 1100,934.14 1100,934.14Z"/>
<path fill="#3b8b66" d="M901.9,745.41C902.44,743.8 905.52,741.53 909.14,739.78C912.76,738.04 918.52,736.43 923.61,734.96C928.7,733.49 934.33,732.2 939.69,730.94C945.05,729.68 950.41,728.48 955.76,727.4C961.12,726.33 966.48,725.31 971.84,724.51C977.2,723.71 982.56,722.98 987.92,722.58C993.28,722.18 998.91,722.04 1004,722.1C1009.09,722.15 1014.45,722.37 1018.47,722.9C1022.49,723.44 1025.71,724.11 1028.12,725.31C1030.53,726.52 1032.54,728.4 1032.94,730.14C1033.34,731.88 1032.14,733.89 1030.53,735.76C1028.92,737.64 1026.64,739.52 1023.29,741.39C1019.94,743.27 1015.26,745.28 1010.43,747.02C1005.61,748.76 999.71,750.56 994.35,751.84C988.99,753.13 983.63,753.93 978.27,754.74C972.92,755.54 967.56,756.21 962.2,756.67C956.84,757.12 951.48,757.6 946.12,757.47C940.76,757.34 935.13,756.67 930.04,755.86C924.95,755.06 919.59,753.72 915.57,752.65C911.55,751.58 908.2,750.64 905.92,749.43C903.64,748.23 901.37,747.02 901.9,745.41Z"/>
<path fill="#3b8b66" d="M728.6,872C727.93,869.17 731.93,865.5 735,863C738.07,860.5 742.33,858.43 747,857C751.67,855.57 757.33,854.57 763,854.4C768.67,854.23 775.33,855.07 781,856C786.67,856.93 792.33,858.33 797,860C801.67,861.67 805.73,863.67 809,866C812.27,868.33 815.93,871.5 816.6,874C817.27,876.5 815.6,879.07 813,881C810.4,882.93 805.67,884.5 801,885.6C796.33,886.7 790.33,887.37 785,887.6C779.67,887.83 774.33,887.53 769,887C763.67,886.47 758,885.57 753,884.4C748,883.23 743.07,882.07 739,880C734.93,877.93 729.27,874.83 728.6,872Z"/>
<path fill="#3b8b66" d="M1100,942.2L1100,1100L150,1100L150,942C150,942 204.33,941.47 216,942C227.67,942.53 238.5,943 251,943.6C263.5,944.2 277.67,944.87 291,945.6C304.33,946.33 317.67,947.2 331,948C344.33,948.8 357.67,949.57 371,950.4C384.33,951.23 399.33,952.23 411,953C422.67,953.77 431.83,954.4 441,955C450.17,955.6 456.83,955.93 466,956.6C475.17,957.27 486,958.1 496,959C506,959.9 516,961.17 526,962C536,962.83 546,963.5 556,964C566,964.5 576,965 586,965C596,965 607,964.5 616,964C625,963.5 630,962.67 640,962C650,961.33 665,960.67 676,960C687,959.33 698.5,958.5 706,958C713.5,957.5 713.5,957.5 721,957C728.5,956.5 741,955.67 751,955C761,954.33 771,953.57 781,953C791,952.43 801,952.1 811,951.6C821,951.1 831,950.53 841,950C851,949.47 861,948.9 871,948.4C881,947.9 891,947.4 901,947C911,946.6 920.95,946.76 931,946C941.05,945.24 951.46,943.25 961.3,942.43C971.15,941.6 980.88,941.28 990.09,941.05C999.3,940.82 1008.27,940.85 1016.58,941.05C1024.89,941.24 1032.16,941.81 1039.95,942.2C1047.75,942.58 1100,942.2 1100,942.2Z"/>
<path fill="#006da8" d="M1100,949.91L1100,1100L150,1100L150,950C150,950 204.33,949.67 216,950C227.67,950.33 238.5,950.67 251,951C263.5,951.33 279.33,951.77 291,952C302.67,952.23 311,952.13 321,952.4C331,952.67 341,953 351,953.6C361,954.2 371,955.1 381,956C391,956.9 401,958 411,959C421,960 431.83,961.03 441,962C450.17,962.97 456.83,963.8 466,964.8C475.17,965.8 486,967.13 496,968C506,968.87 516,969.5 526,970C536,970.5 546,970.83 556,971C566,971.17 576,971.1 586,971C596,970.9 607,970.57 616,970.4C625,970.23 630,970.4 640,970C650,969.6 665,968.8 676,968C687,967.2 698.5,965.87 706,965.2C713.5,964.53 713.5,964.6 721,964C728.5,963.4 741,962.33 751,961.6C761,960.87 771,960.2 781,959.6C791,959 801,958.53 811,958C821,957.47 831,956.9 841,956.4C851,955.9 861,955.33 871,955C881,954.67 891,954.63 901,954.4C911,954.17 919.99,954.02 931,953.6C942.01,953.18 957.21,952.48 967.06,951.87C976.91,951.26 981.46,950.33 990.09,949.91C998.73,949.49 1010.57,949.34 1018.88,949.34C1027.19,949.34 1032.93,949.72 1039.95,949.91C1046.98,950.1 1100,949.91 1100,949.91Z"/>
<path fill="#0032ff" d="M1100,961.77L1100,1100L150,1100L150,961.6C150,961.6 204.33,962.13 216,961.6C227.67,961.07 240.17,960.43 251,960C261.83,959.57 271,959 281,959C291,959 301,959.17 311,960C321,960.83 331,962.5 341,964C351,965.5 361,967.4 371,969C381,970.6 391,972.1 401,973.6C411,975.1 422.67,976.87 431,978C439.33,979.13 445.17,979.7 451,980.4C456.83,981.1 458.5,981.77 466,982.2C473.5,982.63 486,982.97 496,983C506,983.03 516,982.73 526,982.4C536,982.07 546,981.47 556,981C566,980.53 576,980.03 586,979.6C596,979.17 607,978.73 616,978.4C625,978.07 630,978.27 640,977.6C650,976.93 665,975.47 676,974.4C687,973.33 698.5,971.93 706,971.2C713.5,970.47 715.17,970.53 721,970C726.83,969.47 734.33,968.73 741,968C747.67,967.27 752.67,966.43 761,965.6C769.33,964.77 781,963.67 791,963C801,962.33 811,961.93 821,961.6C831,961.27 841,961.1 851,961C861,960.9 872.67,960.83 881,961C889.33,961.17 894.33,961.5 901,962C907.67,962.5 914.33,963.5 921,964C927.67,964.5 933.32,964.95 941,965C948.68,965.05 957.92,964.52 967.06,964.31C976.2,964.1 987.21,964.02 995.85,963.73C1004.49,963.44 1011.53,962.91 1018.88,962.58C1026.23,962.25 1032.93,962.04 1039.95,961.77C1046.98,961.5 1100,961.77 1100,961.77Z"/>
<use href="#coast" transform="translate(0,623.87)"/>
</g>
<rect x="215.6" y="623.87" width="824.29" height="372.57" fill="none" stroke="#000" stroke-width="1.67"/>
<path d="M215.6,996.43v7.3M352.98,996.43v7.3M490.36,996.43v7.3M627.75,996.43v7.3M765.13,996.43v7.3M902.51,996.43v7.3M1039.87,996.43v7.3M215.6,623.87h-7.3M215.6,685.96h-7.3M215.6,748.06h-7.3M215.6,810.15h-7.3M215.6,872.25h-7.3M215.6,934.34h-7.3M215.6,996.43h-7.3" stroke="#000" stroke-width="2.08" fill="none"/>
<g class="t8 m">
<text x="215.6" y="1023.33">0°E</text>
<text x="352.98" y="1023.33">60°E</text>
<text x="490.36" y="1023.33">120°E</text>
<text x="627.75" y="1023.33">180°</text>
<text x="765.13" y="1023.33">120°W</text>
<text x="902.51" y="1023.33">60°W</text>
<text x="1039.87" y="1023.33">0°W</text>
</g><g class="t8 e">
<text x="201" y="629.97">90°N</text>
<text x="201" y="692.06">60°N</text>
<text x="201" y="754.16">30°N</text>
<text x="201" y="816.25">0°</text>
<text x="201" y="878.35">30°S</text>
<text x="201" y="940.44">60°S</text>
<text x="201" y="1002.53">90°S</text>
</g>
<text class="t95" x="215.6" y="612.26">CTRL (None)</text>
<text class="t95 e" x="1039.89" y="612.26">K</text>
<g class="t95">
<text x="1061.57" y="604.78">Max</text>
<text x="1061.57" y="626.78">Mean</text>
<text x="1061.57" y="648.78">Min</text>
</g><g class="t95 e">
<text x="1188.47" y="604.78">226.21</text>
<text x="1188.47" y="626.78">217.78</text>
<text x="1188.47" y="648.78">207.69</text>
</g>
<g shape-rendering="crispEdges">
<rect x="1061.57" y="921" width="41.56" height="27" fill="#0032ff"/>
<rect x="1061.57" y="894" width="41.56" height="27" fill="#006da8"/>
<rect x="1061.57" y="867" width="41.56" height="27" fill="#3b8b66"/>
<rect x="1061.57" y="840" width="41.56" height="27" fill="#4aa716"/>
<rect x="1061.57" y="814" width="41.56" height="26" fill="#93ba1a"/>
<rect x="1061.57" y="787" width="41.56" height="27" fill="#d4c926"/>
<rect x="1061.57" y="760" width="41.56" height="27" fill="#fdc323"/>
<rect x="1061.57" y="733" width="41.56" height="27" fill="#ff9910"/>
<rect x="1061.57" y="706" width="41.56" height="27" fill="#ff6a04"/>
<rect x="1061.57" y="679" width="41.56" height="27" fill="#ff2d00"/>
</g>
<path d="M1061.57,946.52L1061.57,947.52L1082.35,960.96L1103.13,947.52L1103.13,946.52Z" fill="#0032ff"/>
<path d="M1061.57,679.72L1061.57,678.72L1082.35,665.28L1103.13,678.72L1103.13,679.72Z" fill="#ff2d00"/>
<path d="M1061.57,947.52L1082.35,960.96L1103.13,947.52L1103.13,678.72L1082.35,665.28L1061.57,678.72Z" fill="none" stroke="#000" stroke-width="1.67" stroke-linejoin="miter"/>
<g class="t9 e">
<text x="1165.63" y="928.24">210.0</text>
<text x="1165.63" y="901.36">212.0</text>
<text x="1165.63" y="874.48">214.0</text>
<text x="1165.63" y="847.6">216.0</text>
<text x="1165.63" y="820.72">218.0</text>
<text x="1165.63" y="793.84">220.0</text>
<text x="1165.63" y="766.96">222.0</text>
<text x="1165.63" y="740.08">224.0</text>
<text x="1165.63" y="713.2">226.0</text>
</g>
<g clip-path="url(#c2)">
<rect x="215.6" y="1093.95" width="824.29" height="372.57" fill="#ffffff"/>
<path fill="#ffe5df" d="M150,1113.6L150,1050L1100,1050L1100,1116.05C1100,1116.05 1045.05,1116.15 1040.02,1116.05C1034.98,1115.94 1031.44,1115.83 1024.9,1115.73C1018.36,1115.62 1010.16,1115.67 1000.78,1115.4C991.41,1115.14 979.35,1114.6 968.63,1114.12C957.91,1113.64 947.19,1113.18 936.47,1112.51C925.75,1111.84 915.03,1110.96 904.31,1110.1C893.59,1109.24 882.71,1108.21 872.16,1107.36C861.6,1106.52 852.86,1105.29 841,1105C829.14,1104.71 814.33,1105.27 801,1105.6C787.67,1105.93 774.33,1107.2 761,1107C747.67,1106.8 730.17,1104.73 721,1104.4C711.83,1104.07 711.83,1104.57 706,1105C700.17,1105.43 692.67,1105.83 686,1107C679.33,1108.17 671.67,1110 666,1112C660.33,1114 655.33,1116.5 652,1119C648.67,1121.5 647.33,1124.17 646,1127C644.67,1129.83 645.33,1133.17 644,1136C642.67,1138.83 641,1141.5 638,1144C635,1146.5 630.67,1148.5 626,1151C621.33,1153.5 615.33,1156.5 610,1159C604.67,1161.5 598.67,1164 594,1166C589.33,1168 586,1169.73 582,1171C578,1172.27 574.67,1173.27 570,1173.6C565.33,1173.93 559.33,1173 554,1173C548.67,1173 543.33,1173.1 538,1173.6C532.67,1174.1 527.33,1175.33 522,1176C516.67,1176.67 511.33,1177.53 506,1177.6C500.67,1177.67 494.67,1177.17 490,1176.4C485.33,1175.63 482,1174.47 478,1173C474,1171.53 471.83,1169.03 466,1167.6C460.17,1166.17 449.5,1165.4 443,1164.4C436.5,1163.4 432.33,1162.67 427,1161.6C421.67,1160.53 416.33,1159.43 411,1158C405.67,1156.57 400.33,1154.83 395,1153C389.67,1151.17 384.33,1149 379,1147C373.67,1145 368.33,1143 363,1141C357.67,1139 352.33,1137 347,1135C341.67,1133 336.33,1130.83 331,1129C325.67,1127.17 321,1125.67 315,1124C309,1122.33 302.33,1120.33 295,1119C287.67,1117.67 280,1116.67 271,1116C262,1115.33 250.17,1115.4 241,1115C231.83,1114.6 224.33,1114.07 216,1113.6C207.67,1113.13 150,1113.6 150,1113.6Z"/>
<path fill="#ffe5df" d="M150,1178C150,1178 211,1179.33 216,1178C221,1176.67 225.83,1175.17 231,1174C236.17,1172.83 241.67,1171.33 247,1171C252.33,1170.67 258,1171.17 263,1172C268,1172.83 272.83,1174.33 277,1176C281.17,1177.67 286.67,1180 288,1182C289.33,1184 287.5,1186 285,1188C282.5,1190 276.67,1191.83 273,1194C269.33,1196.17 266,1198.67 263,1201C260,1203.33 258,1205.83 255,1208C252,1210.17 248.67,1213.17 245,1214C241.33,1214.83 236.67,1213.67 233,1213C229.33,1212.33 225.83,1210.83 223,1210C220.17,1209.17 218.33,1208.67 216,1208C213.67,1207.33 150,1208 150,1208L150,1178Z"/>
<path fill="#ffe5df" d="M617,1201C617.67,1198.83 621.83,1196.83 626,1195C630.17,1193.17 636.67,1191.23 642,1190C647.33,1188.77 652.67,1187.93 658,1187.6C663.33,1187.27 669.33,1187.27 674,1188C678.67,1188.73 682,1190.33 686,1192C690,1193.67 694,1196 698,1198C702,1200 706.17,1202.4 710,1204C713.83,1205.6 718.33,1206.6 721,1207.6C723.67,1208.6 724.67,1208.27 726,1210C727.33,1211.73 728.77,1215.5 729,1218C729.23,1220.5 725.4,1223.6 727.4,1225C729.4,1226.4 735.4,1226.23 741,1226.4C746.6,1226.57 754.33,1226.33 761,1226C767.67,1225.67 775.33,1225 781,1224.4C786.67,1223.8 791,1221.73 795,1222.4C799,1223.07 802.33,1225.8 805,1228.4C807.67,1231 810.33,1234.4 811,1238C811.67,1241.6 809.67,1247 809,1250C808.33,1253 808.33,1254.33 807,1256C805.67,1257.67 803.67,1259.67 801,1260C798.33,1260.33 795,1258.67 791,1258C787,1257.33 782,1256.33 777,1256C772,1255.67 766.33,1256.17 761,1256C755.67,1255.83 749.67,1255.5 745,1255C740.33,1254.5 737,1253.83 733,1253C729,1252.17 724.17,1250.83 721,1250C717.83,1249.17 716.5,1247.33 714,1248C711.5,1248.67 708.67,1252.17 706,1254C703.33,1255.83 701.33,1258 698,1259C694.67,1260 689.17,1260.5 686,1260C682.83,1259.5 680.33,1258 679,1256C677.67,1254 678.83,1250.83 678,1248C677.17,1245.17 676,1241.33 674,1239C672,1236.67 669.67,1235 666,1234C662.33,1233 656.33,1234.17 652,1233C647.67,1231.83 643.67,1229.5 640,1227C636.33,1224.5 633,1221.17 630,1218C627,1214.83 624.17,1210.83 622,1208C619.83,1205.17 616.33,1203.17 617,1201Z"/>
<path fill="#ffe5df" d="M801,1226C801.67,1225.33 806.33,1226.67 809,1228C811.67,1229.33 814.33,1232.17 817,1234C819.67,1235.83 822.33,1238.5 825,1239C827.67,1239.5 830.33,1238.5 833,1237C835.67,1235.5 838,1232 841,1230C844,1228 847.67,1226.5 851,1225C854.33,1223.5 858,1221.5 861,1221C864,1220.5 869,1220.5 869,1222C869,1223.5 863.67,1227.83 861,1230C858.33,1232.17 855.67,1233 853,1235C850.33,1237 845.67,1239.83 845,1242C844.33,1244.17 849.33,1246.5 849,1248C848.67,1249.5 845.33,1251 843,1251C840.67,1251 837.33,1249.17 835,1248C832.67,1246.83 831.33,1244.83 829,1244C826.67,1243.17 823.67,1244 821,1243C818.33,1242 815.67,1239.83 813,1238C810.33,1236.17 807,1234 805,1232C803,1230 800.33,1226.67 801,1226Z"/>
<path fill="#ffe5df" d="M862.51,1219.43C865.19,1218.63 871.09,1219.03 875.37,1218.63C879.66,1218.23 883.68,1217.82 888.24,1217.02C892.79,1216.22 899.76,1215.28 902.71,1213.8C905.65,1212.33 904.05,1209.73 905.92,1208.18C907.8,1206.62 910.48,1204.88 913.96,1204.48C917.44,1204.08 922.54,1204.88 926.82,1205.76C931.11,1206.65 935.67,1207.91 939.69,1209.78C943.71,1211.66 947.99,1214.61 950.94,1217.02C953.89,1219.43 955.23,1222.38 957.37,1224.26C959.52,1226.13 961.12,1228.27 963.8,1228.27C966.48,1228.27 969.43,1225.6 973.45,1224.26C977.47,1222.92 982.83,1221.31 987.92,1220.24C993.01,1219.16 999.18,1218.09 1004,1217.82C1008.82,1217.56 1012.84,1217.69 1016.86,1218.63C1020.88,1219.57 1024.77,1221.58 1028.12,1223.45C1031.47,1225.33 1035.35,1228.27 1036.96,1229.88C1038.57,1231.49 1038.97,1231.76 1037.77,1233.1C1036.56,1234.44 1033.21,1236.45 1029.73,1237.92C1026.24,1239.4 1021.69,1240.87 1016.86,1241.94C1012.04,1243.01 1006.14,1243.42 1000.78,1244.35C995.43,1245.29 990.07,1246.36 984.71,1247.57C979.35,1248.77 973.99,1251.19 968.63,1251.59C963.27,1251.99 957.91,1250.52 952.55,1249.98C947.19,1249.44 941.29,1248.91 936.47,1248.37C931.65,1247.84 927.09,1247.7 923.61,1246.77C920.12,1245.83 917.18,1244.35 915.57,1242.75C913.96,1241.14 916.37,1238.32 913.96,1237.12C911.55,1235.91 905.92,1235.91 901.1,1235.51C896.27,1235.11 889.84,1235.38 885.02,1234.71C880.2,1234.04 875.64,1232.56 872.16,1231.49C868.67,1230.42 866.26,1229.61 864.12,1228.27C861.97,1226.93 859.56,1224.93 859.29,1223.45C859.03,1221.98 859.83,1220.24 862.51,1219.43Z"/>
<path fill="#ffe5df" d="M840,1225.06C842.68,1224.26 846.97,1223.32 849.65,1223.45C852.33,1223.59 856.08,1224.79 856.08,1225.86C856.08,1226.93 852.33,1228.94 849.65,1229.88C846.97,1230.82 842.68,1231.76 840,1231.49C837.32,1231.22 833.57,1229.35 833.57,1228.27C833.57,1227.2 837.32,1225.86 840,1225.06Z"/>
<path fill="#ffe5df" d="M840,1244.35C843.22,1243.28 847.5,1242.34 849.65,1242.75C851.79,1243.15 853.4,1245.43 852.86,1246.77C852.33,1248.1 848.58,1249.98 846.43,1250.78C844.29,1251.59 842.68,1251.86 840,1251.59C837.32,1251.32 830.35,1250.38 830.35,1249.18C830.35,1247.97 836.78,1245.43 840,1244.35Z"/>
<path fill="#ffe5df" d="M565,1350C564,1347.83 567.17,1343.5 570,1341C572.83,1338.5 579.33,1337.33 582,1335C584.67,1332.67 584,1328.77 586,1327C588,1325.23 591,1324.4 594,1324.4C597,1324.4 601.67,1325.4 604,1327C606.33,1328.6 605.67,1332.17 608,1334C610.33,1335.83 614,1337.5 618,1338C622,1338.5 627.33,1337.83 632,1337C636.67,1336.17 641,1334.17 646,1333C651,1331.83 656.67,1330.83 662,1330C667.33,1329.17 672.33,1328.33 678,1328C683.67,1327.67 688.83,1327.73 696,1328C703.17,1328.27 714.17,1328.87 721,1329.6C727.83,1330.33 732,1331.17 737,1332.4C742,1333.63 746.67,1335.23 751,1337C755.33,1338.77 760.5,1341.17 763,1343C765.5,1344.83 766.67,1346.17 766,1348C765.33,1349.83 762.17,1352 759,1354C755.83,1356 751.33,1358.17 747,1360C742.67,1361.83 737.33,1363.67 733,1365C728.67,1366.33 725.5,1368 721,1368C716.5,1368 711.17,1366 706,1365C700.83,1364 695.33,1362.67 690,1362C684.67,1361.33 678.33,1360.5 674,1361C669.67,1361.5 664,1363.5 664,1365C664,1366.5 669.67,1368.67 674,1370C678.33,1371.33 684.67,1372.27 690,1373C695.33,1373.73 701.5,1373.23 706,1374.4C710.5,1375.57 715.33,1378.07 717,1380C718.67,1381.93 717.83,1384.17 716,1386C714.17,1387.83 711,1389.6 706,1391C701,1392.4 692.67,1393.83 686,1394.4C679.33,1394.97 672.67,1394.8 666,1394.4C659.33,1394 651.33,1393.07 646,1392C640.67,1390.93 635.67,1389.83 634,1388C632.33,1386.17 634,1383 636,1381C638,1379 644.33,1377.5 646,1376C647.67,1374.5 647.67,1373.33 646,1372C644.33,1370.67 640,1369.33 636,1368C632,1366.67 627,1365.33 622,1364C617,1362.67 611.33,1361.17 606,1360C600.67,1358.83 595,1358 590,1357C585,1356 580.17,1355.17 576,1354C571.83,1352.83 566,1352.17 565,1350Z"/>
<path fill="#ffe5df" d="M553.4,1349.6C553.4,1350.33 552.87,1351.16 552.01,1351.8C551.14,1352.44 549.7,1353.04 548.2,1353.41C546.7,1353.78 544.73,1354 543,1354C541.27,1354 539.3,1353.78 537.8,1353.41C536.3,1353.04 534.86,1352.44 533.99,1351.8C533.13,1351.16 532.6,1350.33 532.6,1349.6C532.6,1348.87 533.13,1348.04 533.99,1347.4C534.86,1346.76 536.3,1346.16 537.8,1345.79C539.3,1345.42 541.27,1345.2 543,1345.2C544.73,1345.2 546.7,1345.42 548.2,1345.79C549.7,1346.16 551.14,1346.76 552.01,1347.4C552.87,1348.04 553.4,1348.87 553.4,1349.6Z"/>
<path fill="#ffe5df" d="M712.4,1297C712.4,1295.67 714.57,1293.77 716,1293C717.43,1292.23 719.57,1291.57 721,1292.4C722.43,1293.23 724.6,1296.23 724.6,1298C724.6,1299.77 722.43,1302.5 721,1303C719.57,1303.5 717.43,1302 716,1301C714.57,1300 712.4,1298.33 712.4,1297Z"/>
<path fill="#ffe5df" d="M784,1319C784.33,1317.77 787.5,1316.43 791,1315.6C794.5,1314.77 801,1314.43 805,1314C809,1313.57 812,1312.17 815,1313C818,1313.83 821,1317.17 823,1319C825,1320.83 826.67,1322.33 827,1324C827.33,1325.67 827.33,1328.07 825,1329C822.67,1329.93 817,1329.93 813,1329.6C809,1329.27 805,1328.1 801,1327C797,1325.9 791.83,1324.33 789,1323C786.17,1321.67 783.67,1320.23 784,1319Z"/>
<path fill="#ffe5df" d="M847,1333C847,1331.5 850,1330.9 853,1331C856,1331.1 861.67,1332.27 865,1333.6C868.33,1334.93 872,1337.27 873,1339C874,1340.73 873,1343.23 871,1344C869,1344.77 864,1344.27 861,1343.6C858,1342.93 855.33,1341.77 853,1340C850.67,1338.23 847,1334.5 847,1333Z"/>
<path fill="#ffe5df" d="M957,1342C957.17,1340.83 959.33,1338.83 961,1338C962.67,1337.17 964.83,1336 967,1337C969.17,1338 972.83,1341.67 974,1344C975.17,1346.33 975.17,1350.17 974,1351C972.83,1351.83 969.33,1350 967,1349C964.67,1348 961.67,1346.17 960,1345C958.33,1343.83 956.83,1343.17 957,1342Z"/>
<path fill="#ffe5df" d="M956.93,1342.18C957.22,1341.03 958.85,1339.02 960.15,1338.15C961.46,1337.29 963.03,1336.52 964.76,1337C966.49,1337.48 968.98,1339.4 970.52,1341.03C972.05,1342.66 973.43,1345.06 973.97,1346.79C974.51,1348.52 974.51,1350.78 973.74,1351.4C972.97,1352.01 971.25,1351.05 969.36,1350.47C967.48,1349.9 964.28,1348.84 962.46,1347.94C960.63,1347.04 959.35,1346.02 958.43,1345.06C957.5,1344.1 956.64,1343.33 956.93,1342.18Z"/>
<path fill="#ffe5df" d="M1100,1410.12L1100,1520L150,1520L150,1410C150,1410 211,1409.67 216,1410C221,1410.33 225.17,1410.5 231,1411C236.83,1411.5 244.33,1412.17 251,1413C257.67,1413.83 264.33,1415 271,1416C277.67,1417 284.33,1418 291,1419C297.67,1420 304.33,1421 311,1422C317.67,1423 324.33,1423.83 331,1425C337.67,1426.17 345.67,1427.5 351,1429C356.33,1430.5 360.17,1432.17 363,1434C365.83,1435.83 367,1438 368,1440C369,1442 366.83,1444.5 369,1446C371.17,1447.5 375.67,1448.33 381,1449C386.33,1449.67 394.33,1449.77 401,1450C407.67,1450.23 414.33,1450.4 421,1450.4C427.67,1450.4 433.5,1450.13 441,1450C448.5,1449.87 458.5,1449.87 466,1449.6C473.5,1449.33 479.33,1449 486,1448.4C492.67,1447.8 499.33,1446.9 506,1446C512.67,1445.1 519.33,1444 526,1443C532.67,1442 539.33,1441 546,1440C552.67,1439 559.33,1437.93 566,1437C572.67,1436.07 579.33,1435.23 586,1434.4C592.67,1433.57 599.33,1432.73 606,1432C612.67,1431.27 619.33,1430.67 626,1430C632.67,1429.33 639.33,1428.83 646,1428C652.67,1427.17 659.33,1426.33 666,1425C672.67,1423.67 680,1421.67 686,1420C692,1418.33 696.17,1416.67 702,1415C707.83,1413.33 712.83,1411 721,1410C729.17,1409 741,1409.33 751,1409C761,1408.67 771,1408.33 781,1408C791,1407.67 801,1407.5 811,1407C821,1406.5 831,1405.77 841,1405C851,1404.23 862.67,1403.23 871,1402.4C879.33,1401.57 885.33,1401.07 891,1400C896.67,1398.93 900,1397.17 905,1396C910,1394.83 916.8,1393.68 921,1393C925.2,1392.32 927.14,1392.05 930.21,1391.93C933.28,1391.81 935.97,1391.74 939.42,1392.28C942.88,1392.81 947.1,1394.1 950.94,1395.15C954.78,1396.21 958.23,1397.55 962.46,1398.61C966.68,1399.66 971.67,1400.62 976.27,1401.49C980.88,1402.35 985.49,1403.02 990.09,1403.79C994.7,1404.56 999.11,1405.33 1003.91,1406.09C1008.71,1406.86 1014.47,1407.82 1018.88,1408.4C1023.3,1408.97 1026.88,1409.26 1030.4,1409.55C1033.91,1409.84 1036.77,1409.93 1039.95,1410.12C1043.14,1410.32 1100,1410.12 1100,1410.12Z"/>
<path fill="#ffcbbf" d="M150,1108.4L150,1050L1100,1050L1100,1108.49C1100,1108.49 1053.09,1108.65 1040.02,1108.49C1026.94,1108.33 1012.68,1108.2 1000.78,1108.01C988.89,1107.82 979.35,1107.63 968.63,1107.36C957.91,1107.1 947.19,1106.75 936.47,1106.4C925.75,1106.05 915.03,1105.73 904.31,1105.27C893.59,1104.82 882.71,1104.21 872.16,1103.67C861.6,1103.12 852.86,1102.44 841,1102C829.14,1101.56 814.33,1101.17 801,1101C787.67,1100.83 774.33,1101 761,1101C747.67,1101 731.83,1101 721,1101C710.17,1101 703.5,1100.67 696,1101C688.5,1101.33 682.67,1102.1 676,1103C669.33,1103.9 662.33,1104.9 656,1106.4C649.67,1107.9 642.67,1109.9 638,1112C633.33,1114.1 630.33,1116.33 628,1119C625.67,1121.67 624.67,1124.83 624,1128C623.33,1131.17 625,1134.83 624,1138C623,1141.17 621,1144.33 618,1147C615,1149.67 610.67,1151.67 606,1154C601.33,1156.33 594.67,1159 590,1161C585.33,1163 581.33,1165 578,1166C574.67,1167 574,1166.83 570,1167C566,1167.17 559.33,1166.83 554,1167C548.67,1167.17 543.33,1167.5 538,1168C532.67,1168.5 527.33,1169.5 522,1170C516.67,1170.5 511.33,1171 506,1171C500.67,1171 494.67,1170.67 490,1170C485.33,1169.33 482,1168.23 478,1167C474,1165.77 471.83,1163.77 466,1162.6C460.17,1161.43 449.5,1160.93 443,1160C436.5,1159.07 432.33,1158.17 427,1157C421.67,1155.83 416.33,1154.5 411,1153C405.67,1151.5 400.33,1149.83 395,1148C389.67,1146.17 384.33,1144.07 379,1142C373.67,1139.93 368.33,1137.77 363,1135.6C357.67,1133.43 352.33,1131.1 347,1129C341.67,1126.9 336.33,1124.83 331,1123C325.67,1121.17 321,1119.57 315,1118C309,1116.43 302.33,1114.77 295,1113.6C287.67,1112.43 280,1111.67 271,1111C262,1110.33 250.17,1110.03 241,1109.6C231.83,1109.17 224.33,1108.8 216,1108.4C207.67,1108 150,1108.4 150,1108.4Z"/>
<path fill="#ffcbbf" d="M231,1186C232.83,1184.07 237,1183.23 241,1182.4C245,1181.57 251,1180.57 255,1181C259,1181.43 263,1183.17 265,1185C267,1186.83 267.67,1189.67 267,1192C266.33,1194.33 263.67,1196.83 261,1199C258.33,1201.17 254.33,1203.83 251,1205C247.67,1206.17 244,1206.5 241,1206C238,1205.5 234.83,1204 233,1202C231.17,1200 230.33,1196.67 230,1194C229.67,1191.33 229.17,1187.93 231,1186Z"/>
<path fill="#ffcbbf" d="M631,1203C631.67,1200.67 634.5,1197.83 638,1196C641.5,1194.17 647,1192.73 652,1192C657,1191.27 663,1190.93 668,1191.6C673,1192.27 677.67,1194.27 682,1196C686.33,1197.73 690,1200 694,1202C698,1204 703.17,1206 706,1208C708.83,1210 711,1212.17 711,1214C711,1215.83 708.83,1217.83 706,1219C703.17,1220.17 698.67,1220.5 694,1221C689.33,1221.5 683.33,1221.43 678,1222C672.67,1222.57 666.67,1224.23 662,1224.4C657.33,1224.57 653.33,1224.4 650,1223C646.67,1221.6 644.67,1218.17 642,1216C639.33,1213.83 635.83,1212.17 634,1210C632.17,1207.83 630.33,1205.33 631,1203Z"/>
<path fill="#ffcbbf" d="M913.16,1221.84C913.69,1220.64 916.24,1218.49 918.78,1217.82C921.33,1217.15 925.48,1217.02 928.43,1217.82C931.38,1218.63 934.33,1220.91 936.47,1222.65C938.61,1224.39 941.03,1226.67 941.29,1228.27C941.56,1229.88 939.95,1231.54 938.08,1232.29C936.2,1233.04 932.72,1233.45 930.04,1232.78C927.36,1232.11 924.41,1229.56 922,1228.27C919.59,1226.99 917.04,1226.13 915.57,1225.06C914.09,1223.99 912.62,1223.05 913.16,1221.84Z"/>
<path fill="#ffcbbf" d="M681,1346C681,1343.67 683.17,1340.67 686,1339C688.83,1337.33 693.67,1336.43 698,1336C702.33,1335.57 708.17,1336 712,1336.4C715.83,1336.8 717.5,1337.3 721,1338.4C724.5,1339.5 729.33,1341.57 733,1343C736.67,1344.43 740.83,1345.83 743,1347C745.17,1348.17 746.67,1348.67 746,1350C745.33,1351.33 741.83,1353.5 739,1355C736.17,1356.5 732,1358.1 729,1359C726,1359.9 723.83,1360.07 721,1360.4C718.17,1360.73 715.83,1361.23 712,1361C708.17,1360.77 702.33,1360.33 698,1359C693.67,1357.67 688.83,1355.17 686,1353C683.17,1350.83 681,1348.33 681,1346Z"/>
<path fill="#ffcbbf" d="M1100,1414.73L1100,1520L150,1520L150,1415C150,1415 211,1414.53 216,1415C221,1415.47 225.17,1415.73 231,1416.4C236.83,1417.07 244.33,1418.07 251,1419C257.67,1419.93 264.33,1421 271,1422C277.67,1423 284.33,1423.93 291,1425C297.67,1426.07 305,1427.07 311,1428.4C317,1429.73 322.83,1431.4 327,1433C331.17,1434.6 335.67,1436.33 336,1438C336.33,1439.67 332.5,1441.33 329,1443C325.5,1444.67 319.17,1446.43 315,1448C310.83,1449.57 304.67,1451.07 304,1452.4C303.33,1453.73 306.5,1455.13 311,1456C315.5,1456.87 324.33,1457.27 331,1457.6C337.67,1457.93 344.33,1458.1 351,1458C357.67,1457.9 364.33,1457.33 371,1457C377.67,1456.67 384.33,1456.23 391,1456C397.67,1455.77 404.33,1455.67 411,1455.6C417.67,1455.53 421.83,1455.63 431,1455.6C440.17,1455.57 456.83,1455.6 466,1455.4C475.17,1455.2 479.33,1454.9 486,1454.4C492.67,1453.9 499.33,1453.2 506,1452.4C512.67,1451.6 519.33,1450.6 526,1449.6C532.67,1448.6 539.33,1447.4 546,1446.4C552.67,1445.4 559.33,1444.6 566,1443.6C572.67,1442.6 579.33,1441.33 586,1440.4C592.67,1439.47 597,1438.73 606,1438C615,1437.27 631,1436.67 640,1436C649,1435.33 653.33,1434.83 660,1434C666.67,1433.17 674,1432.17 680,1431C686,1429.83 691.33,1428.5 696,1427C700.67,1425.5 704,1423.5 708,1422C712,1420.5 715.33,1419.07 720,1418C724.67,1416.93 729.33,1416.2 736,1415.6C742.67,1415 752.67,1414.73 760,1414.4C767.33,1414.07 773.33,1413.83 780,1413.6C786.67,1413.37 793.33,1413.27 800,1413C806.67,1412.73 813.33,1412.33 820,1412C826.67,1411.67 831.5,1411.33 840,1411C848.5,1410.67 862.5,1410 871,1410C879.5,1410 885.33,1410.5 891,1411C896.67,1411.5 900,1412 905,1413C910,1414 916.8,1416.23 921,1417C925.2,1417.77 927.33,1417.6 930.21,1417.61C933.09,1417.62 935.59,1417.71 938.27,1417.03C940.96,1416.36 943.84,1414.63 946.33,1413.58C948.83,1412.52 950.94,1411.43 953.24,1410.7C955.55,1409.97 956.89,1409.49 960.15,1409.2C963.42,1408.92 968.6,1408.82 972.82,1408.97C977.04,1409.13 981.07,1409.64 985.49,1410.12C989.9,1410.6 994.7,1411.31 999.3,1411.85C1003.91,1412.39 1008.9,1412.96 1013.12,1413.35C1017.35,1413.73 1020.17,1413.92 1024.64,1414.15C1029.11,1414.39 1034.85,1414.54 1039.95,1414.73C1045.06,1414.92 1100,1414.73 1100,1414.73Z"/>
<path fill="#ffb09f" d="M348,1114C348.67,1112.17 351.17,1110.5 355,1109C358.83,1107.5 365,1106.1 371,1105C377,1103.9 384.33,1103.07 391,1102.4C397.67,1101.73 404.33,1101.4 411,1101C417.67,1100.6 421.83,1100.23 431,1100C440.17,1099.77 453.5,1099.43 466,1099.6C478.5,1099.77 492.67,1100.2 506,1101C519.33,1101.8 536.67,1103.4 546,1104.4C555.33,1105.4 557.67,1105.9 562,1107C566.33,1108.1 571.33,1109.17 572,1111C572.67,1112.83 567.33,1115.83 566,1118C564.67,1120.17 563.33,1122 564,1124C564.67,1126 567,1128 570,1130C573,1132 578.83,1134.17 582,1136C585.17,1137.83 588.33,1139.17 589,1141C589.67,1142.83 588.5,1144.83 586,1147C583.5,1149.17 578.67,1151.83 574,1154C569.33,1156.17 563.33,1158.5 558,1160C552.67,1161.5 547.33,1162.27 542,1163C536.67,1163.73 531.33,1164.17 526,1164.4C520.67,1164.63 515.33,1164.73 510,1164.4C504.67,1164.07 499,1163.13 494,1162.4C489,1161.67 484.67,1160.8 480,1160C475.33,1159.2 472.83,1158.27 466,1157.6C459.17,1156.93 446.17,1156.77 439,1156C431.83,1155.23 428.33,1154.17 423,1153C417.67,1151.83 412.33,1150.67 407,1149C401.67,1147.33 396.33,1145.17 391,1143C385.67,1140.83 380,1138.5 375,1136C370,1133.5 365,1130.67 361,1128C357,1125.33 353.17,1122.33 351,1120C348.83,1117.67 347.33,1115.83 348,1114Z"/>
<path fill="#ffb09f" d="M666.1,1204C666.1,1204.58 665.87,1205.24 665.5,1205.75C665.12,1206.26 664.5,1206.74 663.85,1207.03C663.2,1207.32 662.35,1207.5 661.6,1207.5C660.85,1207.5 660,1207.32 659.35,1207.03C658.7,1206.74 658.08,1206.26 657.7,1205.75C657.33,1205.24 657.1,1204.58 657.1,1204C657.1,1203.42 657.33,1202.76 657.7,1202.25C658.08,1201.74 658.7,1201.26 659.35,1200.97C660,1200.68 660.85,1200.5 661.6,1200.5C662.35,1200.5 663.2,1200.68 663.85,1200.97C664.5,1201.26 665.12,1201.74 665.5,1202.25C665.87,1202.76 666.1,1203.42 666.1,1204Z"/>
<path fill="#ffb09f" d="M621,1459C619.67,1457.43 627.17,1454.67 632,1453C636.83,1451.33 643.67,1450.33 650,1449C656.33,1447.67 663.33,1446.5 670,1445C676.67,1443.5 683.33,1441.83 690,1440C696.67,1438.17 703.33,1435.83 710,1434C716.67,1432.17 723.33,1430.6 730,1429C736.67,1427.4 743.33,1425.73 750,1424.4C756.67,1423.07 763.33,1421.9 770,1421C776.67,1420.1 783.17,1419.57 790,1419C796.83,1418.43 804.17,1417.83 811,1417.6C817.83,1417.37 824.33,1417.47 831,1417.6C837.67,1417.73 844.33,1417.93 851,1418.4C857.67,1418.87 864.33,1419.47 871,1420.4C877.67,1421.33 884.67,1422.67 891,1424C897.33,1425.33 903.33,1426.73 909,1428.4C914.67,1430.07 920,1432.07 925,1434C930,1435.93 935.67,1438.17 939,1440C942.33,1441.83 945.33,1443.17 945,1445C944.67,1446.83 941,1449.33 937,1451C933,1452.67 927,1453.83 921,1455C915,1456.17 907.67,1457.23 901,1458C894.33,1458.77 889.33,1459.1 881,1459.6C872.67,1460.1 861,1460.67 851,1461C841,1461.33 831,1461.43 821,1461.6C811,1461.77 801,1462 791,1462C781,1462 772.67,1461.87 761,1461.6C749.33,1461.33 731.17,1460 721,1460.4C710.83,1460.8 708.5,1463.47 700,1464C691.5,1464.53 680,1463.87 670,1463.6C660,1463.33 648.17,1463.17 640,1462.4C631.83,1461.63 622.33,1460.57 621,1459Z"/>
<path fill="#ff9680" d="M380,1122C380.33,1119.83 383.5,1117.5 387,1116C390.5,1114.5 395.33,1113.73 401,1113C406.67,1112.27 414.33,1111.93 421,1111.6C427.67,1111.27 433.5,1111.1 441,1111C448.5,1110.9 458.5,1110.67 466,1111C473.5,1111.33 480.33,1111.83 486,1113C491.67,1114.17 497,1115.5 500,1118C503,1120.5 502,1125 504,1128C506,1131 509.5,1133.5 512,1136C514.5,1138.5 518.67,1140.83 519,1143C519.33,1145.17 516.83,1147.57 514,1149C511.17,1150.43 506.67,1151.43 502,1151.6C497.33,1151.77 490.67,1150.6 486,1150C481.33,1149.4 477.33,1148.57 474,1148C470.67,1147.43 469.83,1146.93 466,1146.6C462.17,1146.27 456.83,1146.5 451,1146C445.17,1145.5 437.33,1144.6 431,1143.6C424.67,1142.6 418.67,1141.43 413,1140C407.33,1138.57 401.67,1136.83 397,1135C392.33,1133.17 387.83,1131.17 385,1129C382.17,1126.83 379.67,1124.17 380,1122Z"/>
<path fill="#ff9680" d="M721,1449C722.33,1447.33 730.17,1444.33 736,1442C741.83,1439.67 749.33,1437 756,1435C762.67,1433 769.33,1431.27 776,1430C782.67,1428.73 789.33,1427.93 796,1427.4C802.67,1426.87 809.33,1426.77 816,1426.8C822.67,1426.83 829.33,1427.13 836,1427.6C842.67,1428.07 849.83,1428.7 856,1429.6C862.17,1430.5 867.83,1431.6 873,1433C878.17,1434.4 886.33,1436.33 887,1438C887.67,1439.67 881.33,1441.5 877,1443C872.67,1444.5 867,1445.83 861,1447C855,1448.17 847.67,1449.17 841,1450C834.33,1450.83 827.67,1451.43 821,1452C814.33,1452.57 807.67,1453.07 801,1453.4C794.33,1453.73 787.67,1453.97 781,1454C774.33,1454.03 767.67,1453.87 761,1453.6C754.33,1453.33 746.5,1452.67 741,1452.4C735.5,1452.13 731.33,1452.57 728,1452C724.67,1451.43 719.67,1450.67 721,1449Z"/>
<path fill="#dfe5ff" d="M150,1126C150,1126 211,1126.13 216,1126C221,1125.87 225.17,1125.77 231,1125.6C236.83,1125.43 244.67,1124.93 251,1125C257.33,1125.07 264.67,1125.33 269,1126C273.33,1126.67 276.67,1128 277,1129C277.33,1130 274.67,1131.17 271,1132C267.33,1132.83 260,1133 255,1134C250,1135 244.5,1136.33 241,1138C237.5,1139.67 235.67,1141.33 234,1144C232.33,1146.67 232.5,1151 231,1154C229.5,1157 227,1159.83 225,1162C223,1164.17 220.5,1165.83 219,1167C217.5,1168.17 217,1168.33 216,1169C215,1169.67 150,1169 150,1169L150,1126Z"/>
<path fill="#dfe5ff" d="M269,1215C269.33,1213.83 269.33,1211.83 271,1210C272.67,1208.17 275.67,1205.83 279,1204C282.33,1202.17 286.67,1200.67 291,1199C295.33,1197.33 300.33,1195.83 305,1194C309.67,1192.17 314,1189.6 319,1188C324,1186.4 329.67,1185.07 335,1184.4C340.33,1183.73 346.33,1184.57 351,1184C355.67,1183.43 359.67,1182.33 363,1181C366.33,1179.67 369.33,1177.83 371,1176C372.67,1174.17 373.33,1172 373,1170C372.67,1168 369.33,1165.67 369,1164C368.67,1162.33 369,1160.83 371,1160C373,1159.17 377,1158.83 381,1159C385,1159.17 390,1159.67 395,1161C400,1162.33 405.67,1164.83 411,1167C416.33,1169.17 421.67,1171.67 427,1174C432.33,1176.33 438,1178.67 443,1181C448,1183.33 453.17,1186.1 457,1188C460.83,1189.9 463.17,1190.57 466,1192.4C468.83,1194.23 471.6,1197.07 474,1199C476.4,1200.93 480.4,1202.33 480.4,1204C480.4,1205.67 476.4,1207.8 474,1209C471.6,1210.2 469.83,1210.7 466,1211.2C462.17,1211.7 456.17,1211.53 451,1212C445.83,1212.47 440.33,1213.73 435,1214C429.67,1214.27 424.33,1213.93 419,1213.6C413.67,1213.27 408.33,1212.27 403,1212C397.67,1211.73 392.33,1211.5 387,1212C381.67,1212.5 376.33,1214 371,1215C365.67,1216 360.33,1217.23 355,1218C349.67,1218.77 344.33,1219.1 339,1219.6C333.67,1220.1 328.33,1220.53 323,1221C317.67,1221.47 312.33,1221.97 307,1222.4C301.67,1222.83 296,1223.67 291,1223.6C286,1223.53 280.67,1223.1 277,1222C273.33,1220.9 270.33,1218.17 269,1217C267.67,1215.83 268.67,1216.17 269,1215Z"/>
<path fill="#dfe5ff" d="M525,1194C525,1192.67 528.5,1190.33 532,1189C535.5,1187.67 541,1186.43 546,1186C551,1185.57 556.67,1186.23 562,1186.4C567.33,1186.57 573.67,1186.57 578,1187C582.33,1187.43 586.17,1187.67 588,1189C589.83,1190.33 589.33,1193 589,1195C588.67,1197 586.83,1199.33 586,1201C585.17,1202.67 586,1204 584,1205C582,1206 577.67,1206.67 574,1207C570.33,1207.33 565.67,1207.83 562,1207C558.33,1206.17 555.33,1203.5 552,1202C548.67,1200.5 545.33,1198.83 542,1198C538.67,1197.17 534.83,1197.67 532,1197C529.17,1196.33 525,1195.33 525,1194Z"/>
<path fill="#dfe5ff" d="M651,1169C651.33,1167.17 654.83,1164.83 658,1163C661.17,1161.17 666,1159.5 670,1158C674,1156.5 678.33,1155.67 682,1154C685.67,1152.33 690.17,1150.33 692,1148C693.83,1145.67 693.33,1142.5 693,1140C692.67,1137.5 691,1134.83 690,1133C689,1131.17 686,1130.5 687,1129C688,1127.5 692.17,1125.33 696,1124C699.83,1122.67 705.83,1121.67 710,1121C714.17,1120.33 715.83,1120.33 721,1120C726.17,1119.67 734.33,1119.33 741,1119C747.67,1118.67 751,1118.17 761,1118C771,1117.83 787.67,1117.67 801,1118C814.33,1118.33 831.82,1119.44 841,1120C850.18,1120.56 850.89,1120.86 856.08,1121.35C861.27,1121.85 866.8,1122.16 872.16,1122.96C877.52,1123.76 883.41,1124.84 888.24,1126.18C893.06,1127.52 897.61,1128.99 901.1,1131C904.58,1133.01 907.26,1135.69 909.14,1138.24C911.01,1140.78 911.01,1143.86 912.35,1146.27C913.69,1148.69 914.76,1150.96 917.18,1152.71C919.59,1154.45 923.07,1155.92 926.82,1156.73C930.58,1157.53 935.4,1157.93 939.69,1157.53C943.97,1157.13 948.26,1155.65 952.55,1154.31C956.84,1152.97 961.12,1151.23 965.41,1149.49C969.7,1147.75 973.99,1145.74 978.27,1143.86C982.56,1141.99 986.85,1139.84 991.14,1138.24C995.43,1136.63 999.71,1135.42 1004,1134.22C1008.29,1133.01 1012.58,1131.94 1016.86,1131C1021.15,1130.06 1025.87,1129.2 1029.73,1128.59C1033.58,1127.97 1036.59,1127.73 1040.02,1127.3C1043.45,1126.87 1100,1127 1100,1127L1100,1170C1100,1170 1042.37,1169.05 1040.02,1170.39C1037.66,1171.73 1035.19,1172.8 1032.94,1174.41C1030.69,1176.02 1028.65,1178.03 1026.51,1180.04C1024.37,1182.05 1022.76,1184.06 1020.08,1186.47C1017.4,1188.88 1014.18,1191.96 1010.43,1194.51C1006.68,1197.06 1001.86,1199.74 997.57,1201.75C993.28,1203.76 988.99,1205.42 984.71,1206.57C980.42,1207.72 976.13,1208.53 971.84,1208.66C967.56,1208.79 963.27,1208.12 958.98,1207.37C954.69,1206.62 950.41,1205.36 946.12,1204.16C941.83,1202.95 937.54,1201.34 933.26,1200.14C928.97,1198.93 924.68,1197.73 920.39,1196.92C916.1,1196.12 911.82,1195.45 907.53,1195.31C903.24,1195.18 898.42,1195.45 894.67,1196.12C890.92,1196.79 887.97,1197.99 885.02,1199.33C882.07,1200.67 880.2,1203.09 876.98,1204.16C873.76,1205.23 869.75,1205.63 865.73,1205.76C861.71,1205.9 857.15,1205.5 852.86,1204.96C848.58,1204.43 843.31,1203.54 840,1202.55C836.69,1201.56 836.83,1199.76 833,1199C829.17,1198.24 821.67,1197.67 817,1198C812.33,1198.33 808.33,1199.67 805,1201C801.67,1202.33 800.33,1204.5 797,1206C793.67,1207.5 789.67,1209.33 785,1210C780.33,1210.67 773.67,1210.67 769,1210C764.33,1209.33 761,1207.67 757,1206C753,1204.33 749,1201.83 745,1200C741,1198.17 737,1196.5 733,1195C729,1193.5 726.17,1192.67 721,1191C715.83,1189.33 707.83,1186.5 702,1185C696.17,1183.5 691.33,1183.17 686,1182C680.67,1180.83 675,1179.33 670,1178C665,1176.67 659.17,1175.5 656,1174C652.83,1172.5 650.67,1170.83 651,1169Z"/>
<path fill="#dfe5ff" d="M150,1357C150,1357 211,1357.87 216,1357C221,1356.13 225.17,1355.4 231,1354.4C236.83,1353.4 244.33,1351.9 251,1351C257.67,1350.1 264.33,1349.67 271,1349C277.67,1348.33 284.33,1347.43 291,1347C297.67,1346.57 304.33,1346.4 311,1346.4C317.67,1346.4 324.33,1346.57 331,1347C337.67,1347.43 344.33,1348.33 351,1349C357.67,1349.67 364.33,1350.57 371,1351C377.67,1351.43 385,1351.7 391,1351.6C397,1351.5 403.17,1351.33 407,1350.4C410.83,1349.47 413,1347.9 414,1346C415,1344.1 412.67,1340.6 413,1339C413.33,1337.4 414.33,1336.4 416,1336.4C417.67,1336.4 420.17,1337.4 423,1339C425.83,1340.6 430.67,1343.67 433,1346C435.33,1348.33 437,1350.83 437,1353C437,1355.17 435.67,1357.17 433,1359C430.33,1360.83 425.33,1362.33 421,1364C416.67,1365.67 410.67,1367.5 407,1369C403.33,1370.5 400.5,1371.5 399,1373C397.5,1374.5 396.67,1376.5 398,1378C399.33,1379.5 403.17,1380.67 407,1382C410.83,1383.33 415.33,1384.67 421,1386C426.67,1387.33 433.5,1388.9 441,1390C448.5,1391.1 458.5,1392.33 466,1392.6C473.5,1392.87 479.33,1391.87 486,1391.6C492.67,1391.33 499.33,1391.43 506,1391C512.67,1390.57 520,1390 526,1389C532,1388 537.67,1386.83 542,1385C546.33,1383.17 548.67,1379.9 552,1378C555.33,1376.1 557.67,1374.43 562,1373.6C566.33,1372.77 575,1372.6 578,1373C581,1373.4 580.67,1374.5 580,1376C579.33,1377.5 575,1379.83 574,1382C573,1384.17 572.67,1386.67 574,1389C575.33,1391.33 578.33,1393.83 582,1396C585.67,1398.17 591.33,1400.33 596,1402C600.67,1403.67 605,1404.83 610,1406C615,1407.17 621.33,1408 626,1409C630.67,1410 635,1411 638,1412C641,1413 644,1414 644,1415C644,1416 641.67,1417 638,1418C634.33,1419 627.33,1420.17 622,1421C616.67,1421.83 611.33,1422.43 606,1423C600.67,1423.57 595.33,1423.73 590,1424.4C584.67,1425.07 579.33,1426 574,1427C568.67,1428 563.33,1429.3 558,1430.4C552.67,1431.5 547.33,1432.6 542,1433.6C536.67,1434.6 532,1435.5 526,1436.4C520,1437.3 512.67,1438.4 506,1439C499.33,1439.6 492.67,1439.73 486,1440C479.33,1440.27 472.5,1440.67 466,1440.6C459.5,1440.53 452.83,1440.2 447,1439.6C441.17,1439 436.33,1438.1 431,1437C425.67,1435.9 420,1434.5 415,1433C410,1431.5 405.67,1429.83 401,1428C396.33,1426.17 392,1423.83 387,1422C382,1420.17 377,1418.5 371,1417C365,1415.5 357.67,1414.17 351,1413C344.33,1411.83 337.67,1411 331,1410C324.33,1409 317.67,1407.93 311,1407C304.33,1406.07 297.67,1405.17 291,1404.4C284.33,1403.63 277.67,1402.97 271,1402.4C264.33,1401.83 257.67,1401.47 251,1401C244.33,1400.53 236.83,1399.77 231,1399.6C225.17,1399.43 221,1399.87 216,1400C211,1400.13 150,1400 150,1400L150,1357Z"/>
<path fill="#dfe5ff" d="M1009.09,1387.67C1008.33,1386.04 1011.3,1382.58 1011.97,1380.18C1012.64,1377.79 1011.97,1375.29 1013.12,1373.27C1014.27,1371.26 1016.58,1369.82 1018.88,1368.09C1021.18,1366.37 1024.45,1364.25 1026.94,1362.91C1029.44,1361.57 1031.68,1360.7 1033.85,1360.03C1036.02,1359.36 1037.92,1359.26 1039.95,1358.88C1041.99,1358.5 1100,1358 1100,1358L1100,1399C1100,1399 1042.76,1399.18 1039.95,1398.61C1037.15,1398.03 1034.1,1397.75 1031.55,1396.88C1029,1396.02 1027.13,1394.58 1024.64,1393.43C1022.14,1392.28 1019.17,1390.93 1016.58,1389.97C1013.99,1389.01 1009.86,1389.3 1009.09,1387.67Z"/>
<path fill="#dfe5ff" d="M747,1382C747.5,1378.67 749.67,1376.83 753,1374C756.33,1371.17 762,1367.67 767,1365C772,1362.33 777.33,1359.5 783,1358C788.67,1356.5 795.67,1355.67 801,1356C806.33,1356.33 810.33,1358.33 815,1360C819.67,1361.67 824,1365 829,1366C834,1367 839.67,1366.67 845,1366C850.33,1365.33 856.33,1362.83 861,1362C865.67,1361.17 869.33,1360 873,1361C876.67,1362 880.67,1365.67 883,1368C885.33,1370.33 887,1372.67 887,1375C887,1377.33 885,1380.17 883,1382C881,1383.83 878,1384.83 875,1386C872,1387.17 868.67,1387.83 865,1389C861.33,1390.17 857.67,1391.67 853,1393C848.33,1394.33 842.33,1396 837,1397C831.67,1398 827,1398.33 821,1399C815,1399.67 807.67,1400.67 801,1401C794.33,1401.33 787.67,1401.33 781,1401C774.33,1400.67 766.17,1400.17 761,1399C755.83,1397.83 752.33,1396.83 750,1394C747.67,1391.17 746.5,1385.33 747,1382Z"/>
<path fill="#bfccff" d="M280,1210C280,1208.67 282.5,1207.5 285,1206C287.5,1204.5 290.67,1202.83 295,1201C299.33,1199.17 305.67,1196.83 311,1195C316.33,1193.17 321.67,1190.67 327,1190C332.33,1189.33 337.67,1191.07 343,1191C348.33,1190.93 353.67,1190.43 359,1189.6C364.33,1188.77 370.33,1187.6 375,1186C379.67,1184.4 384,1182 387,1180C390,1178 392.67,1175.83 393,1174C393.33,1172.17 388.67,1170 389,1169C389.33,1168 392.33,1167.5 395,1168C397.67,1168.5 401.67,1170 405,1172C408.33,1174 411.67,1177.33 415,1180C418.33,1182.67 421,1186 425,1188C429,1190 434.67,1191 439,1192C443.33,1193 448.07,1192.83 451,1194C453.93,1195.17 456.6,1197.33 456.6,1199C456.6,1200.67 454.6,1202.9 451,1204C447.4,1205.1 440.33,1205.43 435,1205.6C429.67,1205.77 424.33,1205.27 419,1205C413.67,1204.73 408.33,1203.67 403,1204C397.67,1204.33 392.33,1205.83 387,1207C381.67,1208.17 376.33,1209.67 371,1211C365.67,1212.33 360.33,1214 355,1215C349.67,1216 344.33,1216.77 339,1217C333.67,1217.23 328.33,1216.57 323,1216.4C317.67,1216.23 311.67,1216.07 307,1216C302.33,1215.93 298.67,1216.33 295,1216C291.33,1215.67 287.5,1215 285,1214C282.5,1213 280,1211.33 280,1210Z"/>
<path fill="#bfccff" d="M672,1170C672.67,1168 678,1165 682,1163C686,1161 691.33,1159.83 696,1158C700.67,1156.17 705.83,1153.77 710,1152C714.17,1150.23 718.5,1149.9 721,1147.4C723.5,1144.9 723,1139.73 725,1137C727,1134.27 729.67,1132.57 733,1131C736.33,1129.43 740.33,1128.5 745,1127.6C749.67,1126.7 753.33,1126.13 761,1125.6C768.67,1125.07 781,1124.5 791,1124.4C801,1124.3 812.67,1124.67 821,1125C829.33,1125.33 835.15,1125.86 841,1126.4C846.85,1126.94 850.89,1127.63 856.08,1128.27C861.27,1128.9 867.07,1129.2 872.16,1130.2C877.25,1131.19 882.61,1132.61 886.63,1134.22C890.65,1135.82 893.59,1137.57 896.27,1139.84C898.95,1142.12 900.83,1145.34 902.71,1147.88C904.58,1150.43 905.12,1153.11 907.53,1155.12C909.94,1157.13 913.42,1158.87 917.18,1159.94C920.93,1161.01 925.75,1161.42 930.04,1161.55C934.33,1161.68 938.61,1161.42 942.9,1160.75C947.19,1160.08 951.48,1158.87 955.76,1157.53C960.05,1156.19 964.34,1154.31 968.63,1152.71C972.92,1151.1 977.2,1149.36 981.49,1147.88C985.78,1146.41 990.07,1144.8 994.35,1143.86C998.64,1142.92 1002.93,1142.39 1007.22,1142.26C1011.5,1142.12 1016.06,1142.52 1020.08,1143.06C1024.1,1143.59 1028.39,1144.4 1031.33,1145.47C1034.28,1146.54 1036.32,1148.42 1037.77,1149.49C1039.21,1150.56 1039.27,1151.1 1040.02,1151.9C1040.77,1152.71 1100,1152 1100,1152L1100,1159C1100,1159 1040.77,1158.07 1040.02,1159.14C1039.27,1160.21 1039.21,1160.75 1037.77,1162.35C1036.32,1163.96 1033.75,1166.51 1031.33,1168.78C1028.92,1171.06 1025.97,1173.61 1023.29,1176.02C1020.61,1178.43 1018.2,1180.84 1015.26,1183.26C1012.31,1185.67 1009.09,1188.21 1005.61,1190.49C1002.12,1192.77 998.37,1195.05 994.35,1196.92C990.33,1198.8 985.78,1200.59 981.49,1201.75C977.2,1202.9 972.92,1203.7 968.63,1203.84C964.34,1203.97 960.05,1203.3 955.76,1202.55C951.48,1201.8 947.19,1200.54 942.9,1199.33C938.61,1198.13 934.33,1196.65 930.04,1195.31C925.75,1193.97 921.46,1192.5 917.18,1191.29C912.89,1190.09 908.6,1188.88 904.31,1188.08C900.03,1187.27 895.74,1186.74 891.45,1186.47C887.16,1186.2 882.88,1186.15 878.59,1186.47C874.3,1186.79 870.01,1188 865.73,1188.4C861.44,1188.8 857.15,1188.94 852.86,1188.88C848.58,1188.83 845.31,1187.89 840,1188.08C834.69,1188.26 826.5,1189.18 821,1190C815.5,1190.82 810.67,1191.67 807,1193C803.33,1194.33 802,1196.33 799,1198C796,1199.67 792.67,1201.83 789,1203C785.33,1204.17 781,1205.17 777,1205C773,1204.83 769,1203.5 765,1202C761,1200.5 757,1198 753,1196C749,1194 745,1191.83 741,1190C737,1188.17 732.33,1186.27 729,1185C725.67,1183.73 724.83,1182.97 721,1182.4C717.17,1181.83 710.83,1182.17 706,1181.6C701.17,1181.03 696.67,1180.1 692,1179C687.33,1177.9 681.33,1176.5 678,1175C674.67,1173.5 671.33,1172 672,1170Z"/>
<path fill="#bfccff" d="M150,1366C150,1366 212.33,1367.67 216,1366C219.67,1364.33 221.83,1362.33 227,1361C232.17,1359.67 239.67,1358.9 247,1358C254.33,1357.1 263.67,1355.77 271,1355.6C278.33,1355.43 284.33,1356.53 291,1357C297.67,1357.47 304.83,1357.8 311,1358.4C317.17,1359 326,1359.5 328,1360.6C330,1361.7 325.83,1363.43 323,1365C320.17,1366.57 313.67,1368.57 311,1370C308.33,1371.43 306.33,1372.33 307,1373.6C307.67,1374.87 311,1376.6 315,1377.6C319,1378.6 325,1379.03 331,1379.6C337,1380.17 344.33,1380.27 351,1381C357.67,1381.73 364.33,1382.67 371,1384C377.67,1385.33 384.33,1387.33 391,1389C397.67,1390.67 404.33,1392.5 411,1394C417.67,1395.5 424.33,1397.1 431,1398C437.67,1398.9 445.17,1399.33 451,1399.4C456.83,1399.47 460.17,1398.97 466,1398.4C471.83,1397.83 479.33,1396.4 486,1396C492.67,1395.6 499.33,1396.07 506,1396C512.67,1395.93 519.33,1395.53 526,1395.6C532.67,1395.67 539.33,1395.83 546,1396.4C552.67,1396.97 559.33,1397.9 566,1399C572.67,1400.1 579.33,1401.5 586,1403C592.67,1404.5 600.83,1406.33 606,1408C611.17,1409.67 616.33,1411.33 617,1413C617.67,1414.67 613.83,1416.83 610,1418C606.17,1419.17 599.33,1419.27 594,1420C588.67,1420.73 583.33,1421.47 578,1422.4C572.67,1423.33 567.33,1424.5 562,1425.6C556.67,1426.7 552,1427.93 546,1429C540,1430.07 532.67,1431.23 526,1432C519.33,1432.77 512.67,1433.2 506,1433.6C499.33,1434 492.67,1434.1 486,1434.4C479.33,1434.7 472.5,1435.4 466,1435.4C459.5,1435.4 452.83,1435.03 447,1434.4C441.17,1433.77 436.33,1432.73 431,1431.6C425.67,1430.47 420,1429.13 415,1427.6C410,1426.07 405.67,1424.07 401,1422.4C396.33,1420.73 392,1419.17 387,1417.6C382,1416.03 377,1414.43 371,1413C365,1411.57 357.67,1410.33 351,1409C344.33,1407.67 337.67,1406.33 331,1405C324.33,1403.67 317.67,1402.17 311,1401C304.33,1399.83 297.67,1398.67 291,1398C284.33,1397.33 277.67,1397.27 271,1397C264.33,1396.73 257.67,1396.63 251,1396.4C244.33,1396.17 236.83,1396 231,1395.6C225.17,1395.2 221,1394.53 216,1394C211,1393.47 150,1394 150,1394L150,1366Z"/>
<path fill="#bfccff" d="M1032.12,1375C1031.93,1373.27 1033.7,1372.12 1035,1370.97C1036.31,1369.82 1038.3,1369.05 1039.95,1368.09C1041.6,1367.13 1100,1368 1100,1368L1100,1389C1100,1389 1041.22,1392.08 1039.95,1389.4C1038.69,1386.71 1037.46,1383.73 1036.15,1381.34C1034.85,1378.94 1032.32,1376.73 1032.12,1375Z"/>
<path fill="#bfccff" d="M762,1382C762.67,1379.83 765.83,1377.17 769,1375C772.17,1372.83 776.67,1370.33 781,1369C785.33,1367.67 790.67,1366.67 795,1367C799.33,1367.33 803,1369.17 807,1371C811,1372.83 815,1375.83 819,1378C823,1380.17 827.4,1382.17 831,1384C834.6,1385.83 840.27,1387.33 840.6,1389C840.93,1390.67 836.93,1392.77 833,1394C829.07,1395.23 822.33,1395.8 817,1396.4C811.67,1397 806.33,1397.5 801,1397.6C795.67,1397.7 789.67,1397.77 785,1397C780.33,1396.23 776.33,1394.5 773,1393C769.67,1391.5 766.83,1389.83 765,1388C763.17,1386.17 761.33,1384.17 762,1382Z"/>
<path fill="#9fb2ff" d="M752,1167C753.17,1164.33 757.5,1160.83 761,1158C764.5,1155.17 769,1152.67 773,1150C777,1147.33 780.33,1144.17 785,1142C789.67,1139.83 795.67,1138.17 801,1137C806.33,1135.83 811.67,1135.33 817,1135C822.33,1134.67 829.17,1135 833,1135C836.83,1135 836.69,1134.88 840,1135.02C843.31,1135.16 848.58,1135.29 852.86,1135.82C857.15,1136.36 861.97,1137.3 865.73,1138.24C869.48,1139.17 872.96,1139.98 875.37,1141.45C877.78,1142.92 879.66,1144.93 880.2,1147.08C880.73,1149.22 879.93,1152.17 878.59,1154.31C877.25,1156.46 874.84,1158.47 872.16,1159.94C869.48,1161.42 865.99,1162.35 862.51,1163.16C859.03,1163.96 855.01,1164.42 851.25,1164.76C847.5,1165.11 843.04,1164.54 840,1165.25C836.96,1165.95 836.17,1167.71 833,1169C829.83,1170.29 825,1171.83 821,1173C817,1174.17 813,1175.23 809,1176C805,1176.77 801,1177.27 797,1177.6C793,1177.93 788,1177.43 785,1178C782,1178.57 779.67,1179.67 779,1181C778.33,1182.33 779.33,1184.67 781,1186C782.67,1187.33 787.33,1187.83 789,1189C790.67,1190.17 792,1191.83 791,1193C790,1194.17 786.33,1195.57 783,1196C779.67,1196.43 774.33,1196.6 771,1195.6C767.67,1194.6 765.17,1192.27 763,1190C760.83,1187.73 759.5,1184.67 758,1182C756.5,1179.33 755,1176.5 754,1174C753,1171.5 750.83,1169.67 752,1167Z"/>
<path fill="#9fb2ff" d="M933.58,1180.84C933.71,1178.7 934.38,1175.89 936.47,1173.61C938.56,1171.33 942.37,1169.05 946.12,1167.18C949.87,1165.3 954.69,1163.83 958.98,1162.35C963.27,1160.88 967.56,1159.54 971.84,1158.33C976.13,1157.13 980.42,1155.79 984.71,1155.12C988.99,1154.45 993.55,1154.18 997.57,1154.31C1001.59,1154.45 1005.61,1154.98 1008.82,1155.92C1012.04,1156.86 1014.99,1158.33 1016.86,1159.94C1018.74,1161.55 1019.81,1163.29 1020.08,1165.57C1020.35,1167.85 1019.68,1170.93 1018.47,1173.61C1017.27,1176.29 1015.26,1179.1 1012.84,1181.65C1010.43,1184.19 1007.35,1186.87 1004,1188.88C1000.65,1190.89 996.77,1192.37 992.75,1193.71C988.73,1195.05 984.17,1196.31 979.88,1196.92C975.6,1197.54 971.31,1197.67 967.02,1197.4C962.73,1197.14 958.18,1196.33 954.16,1195.31C950.14,1194.3 945.98,1192.77 942.9,1191.29C939.82,1189.82 937.22,1188.21 935.67,1186.47C934.11,1184.73 933.44,1182.99 933.58,1180.84Z"/>
<path fill="#9fb2ff" d="M429,1412C429.33,1410.83 436.67,1409.83 441,1409C445.33,1408.17 450.83,1407.37 455,1407C459.17,1406.63 460.83,1406.97 466,1406.8C471.17,1406.63 479.33,1406.3 486,1406C492.67,1405.7 499.33,1405.07 506,1405C512.67,1404.93 519.33,1405.1 526,1405.6C532.67,1406.1 540,1407.1 546,1408C552,1408.9 557.83,1410.07 562,1411C566.17,1411.93 570.67,1412.43 571,1413.6C571.33,1414.77 567.5,1416.77 564,1418C560.5,1419.23 555,1420 550,1421C545,1422 539.33,1423.17 534,1424C528.67,1424.83 523.33,1425.5 518,1426C512.67,1426.5 507.33,1426.83 502,1427C496.67,1427.17 490.67,1427.17 486,1427C481.33,1426.83 477.33,1426.43 474,1426C470.67,1425.57 469.83,1425.4 466,1424.4C462.17,1423.4 455.5,1421.4 451,1420C446.5,1418.6 442.67,1417.33 439,1416C435.33,1414.67 428.67,1413.17 429,1412Z"/>
<path fill="#8099ff" d="M950.94,1182.45C951.21,1180.71 952.01,1177.36 954.16,1175.22C956.3,1173.07 960.05,1171.2 963.8,1169.59C967.56,1167.98 972.38,1166.56 976.67,1165.57C980.95,1164.58 985.78,1163.64 989.53,1163.64C993.28,1163.64 996.63,1164.31 999.18,1165.57C1001.72,1166.83 1004.27,1169.05 1004.8,1171.2C1005.34,1173.34 1004.13,1176.15 1002.39,1178.43C1000.65,1180.71 997.57,1183.2 994.35,1184.86C991.14,1186.52 987.12,1187.6 983.1,1188.4C979.08,1189.2 974.26,1189.74 970.24,1189.69C966.22,1189.63 961.93,1188.75 958.98,1188.08C956.03,1187.41 953.89,1186.6 952.55,1185.67C951.21,1184.73 950.67,1184.19 950.94,1182.45Z"/>
<use href="#coast" transform="translate(0,1093.95)"/>
</g>
<rect x="215.6" y="1093.95" width="824.29" height="372.57" fill="none" stroke="#000" stroke-width="1.67"/>
<path d="M215.6,1466.52v7.3M352.98,1466.52v7.3M490.36,1466.52v7.3M627.75,1466.52v7.3M765.13,1466.52v7.3M902.51,1466.52v7.3M1039.87,1466.52v7.3M215.6,1093.95h-7.3M215.6,1156.05h-7.3M215.6,1218.14h-7.3M215.6,1280.24h-7.3M215.6,1342.33h-7.3M215.6,1404.43h-7.3M215.6,1466.52h-7.3" stroke="#000" stroke-width="2.08" fill="none"/>
<g class="t8 m">
<text x="215.6" y="1493.42">0°E</text>
<text x="352.98" y="1493.42">60°E</text>
<text x="490.36" y="1493.42">120°E</text>
<text x="627.75" y="1493.42">180°</text>
<text x="765.13" y="1493.42">120°W</text>
<text x="902.51" y="1493.42">60°W</text>
<text x="1039.87" y="1493.42">0°W</text>
</g><g class="t8 e">
<text x="201" y="1100.05">90°N</text>
<text x="201" y="1162.14">60°N</text>
<text x="201" y="1224.24">30°N</text>
<text x="201" y="1286.34">0°</text>
<text x="201" y="1348.43">30°S</text>
<text x="201" y="1410.53">60°S</text>
<text x="201" y="1472.62">90°S</text>
</g>
<text class="t115 m" x="627.75" y="1081.45">TEST - CTRL</text>
<g class="t95">
<text x="1061.57" y="1074.87">Max</text>
<text x="1061.57" y="1096.87">Mean</text>
<text x="1061.57" y="1118.87">Min</text>
</g><g class="t95 e">
<text x="1188.47" y="1074.87">3.90</text>
<text x="1188.47" y="1096.87">0.02</text>
<text x="1188.47" y="1118.87">-4.00</text>
</g>
<g shape-rendering="crispEdges">
<rect x="1061.57" y="1402" width="41.56" height="16" fill="#0032ff"/>
<rect x="1061.57" y="1386" width="41.56" height="16" fill="#204cff"/>
<rect x="1061.57" y="1371" width="41.56" height="15" fill="#4065ff"/>
<rect x="1061.57" y="1355" width="41.56" height="16" fill="#607fff"/>
<rect x="1061.57" y="1339" width="41.56" height="16" fill="#8099ff"/>
<rect x="1061.57" y="1323" width="41.56" height="16" fill="#9fb2ff"/>
<rect x="1061.57" y="1307" width="41.56" height="16" fill="#bfccff"/>
<rect x="1061.57" y="1292" width="41.56" height="15" fill="#dfe5ff"/>
<rect x="1061.57" y="1276" width="41.56" height="16" fill="#ffffff"/>
<rect x="1061.57" y="1260" width="41.56" height="16" fill="#ffe5df"/>
<rect x="1061.57" y="1244" width="41.56" height="16" fill="#ffcbbf"/>
<rect x="1061.57" y="1228" width="41.56" height="16" fill="#ffb09f"/>
<rect x="1061.57" y="1213" width="41.56" height="15" fill="#ff9680"/>
<rect x="1061.57" y="1197" width="41.56" height="16" fill="#ff7c60"/>
<rect x="1061.57" y="1181" width="41.56" height="16" fill="#ff6240"/>
<rect x="1061.57" y="1165" width="41.56" height="16" fill="#ff4720"/>
<rect x="1061.57" y="1149" width="41.56" height="16" fill="#ff2d00"/>
</g>
<path d="M1061.57,1416.6L1061.57,1417.6L1082.35,1431.04L1103.13,1417.6L1103.13,1416.6Z" fill="#0032ff"/>
<path d="M1061.57,1149.8L1061.57,1148.8L1082.35,1135.36L1103.13,1148.8L1103.13,1149.8Z" fill="#ff2d00"/>
<path d="M1061.57,1417.6L1082.35,1431.04L1103.13,1417.6L1103.13,1148.8L1082.35,1135.36L1061.57,1148.8Z" fill="none" stroke="#000" stroke-width="1.67" stroke-linejoin="miter"/>
<g class="t9 e">
<text x="1155.21" y="1409.39">-10.0</text>
<text x="1155.21" y="1393.58">-7.5</text>
<text x="1155.21" y="1377.77">-5.0</text>
<text x="1155.21" y="1361.96">-4.0</text>
<text x="1155.21" y="1346.15">-3.0</text>
<text x="1155.21" y="1330.33">-2.0</text>
<text x="1155.21" y="1314.52">-1.0</text>
<text x="1155.21" y="1298.71">-0.5</text>
<text x="1155.21" y="1282.9">0.5</text>
<text x="1155.21" y="1267.09">1.0</text>
<text x="1155.21" y="1251.28">2.0</text>
<text x="1155.21" y="1235.46">3.0</text>
<text x="1155.21" y="1219.65">4.0</text>
<text x="1155.21" y="1203.84">5.0</text>
<text x="1155.21" y="1188.03">7.5</text>
<text x="1155.21" y="1172.22">10.0</text>
</g>
<g class="t95"><text x="1061.57" y="1461.85">RMSE</text><text x="1061.57" y="1483.85">CORR</text></g>
<g class="t95 e"><text x="1188.47" y="1461.85">0.88</text><text x="1188.47" y="1483.85">0.94</text></g>
</svg></body></html>
